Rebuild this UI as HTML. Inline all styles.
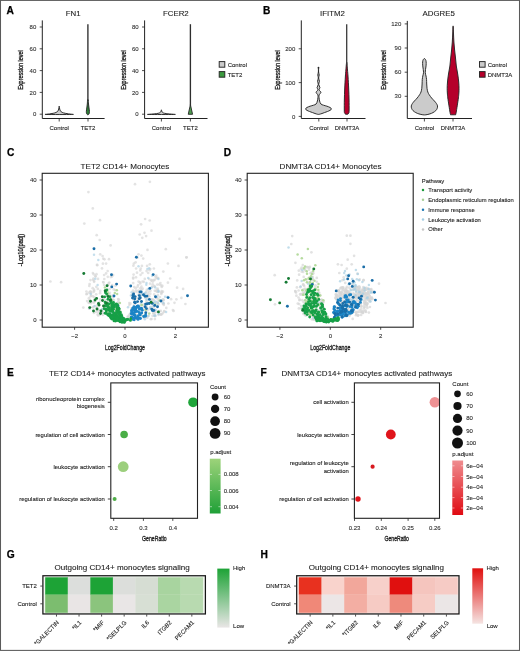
<!DOCTYPE html>
<html><head><meta charset="utf-8"><title>Figure</title>
<style>
html,body{margin:0;padding:0;background:#fff;}
body{width:520px;height:651px;overflow:hidden;font-family:"Liberation Sans",sans-serif;}
svg{display:block;font-family:"Liberation Sans",sans-serif;will-change:transform;}
</style></head><body>
<svg width="520" height="651" viewBox="0 0 520 651">
<rect x="0" y="0" width="520" height="651" fill="#fff"/>
<path d="M42.3 20.4 V118.5 H104.6" fill="none" stroke="#222" stroke-width="1"/>
<line x1="39.699999999999996" y1="27" x2="42.3" y2="27" stroke="#222" stroke-width="0.8"/>
<text x="36.3" y="29.1" font-size="6.0" text-anchor="end" font-weight="normal" fill="#303030" stroke="#303030" stroke-width="0.1" >80</text>
<line x1="39.699999999999996" y1="48.8" x2="42.3" y2="48.8" stroke="#222" stroke-width="0.8"/>
<text x="36.3" y="50.9" font-size="6.0" text-anchor="end" font-weight="normal" fill="#303030" stroke="#303030" stroke-width="0.1" >60</text>
<line x1="39.699999999999996" y1="70.6" x2="42.3" y2="70.6" stroke="#222" stroke-width="0.8"/>
<text x="36.3" y="72.69999999999999" font-size="6.0" text-anchor="end" font-weight="normal" fill="#303030" stroke="#303030" stroke-width="0.1" >40</text>
<line x1="39.699999999999996" y1="92.4" x2="42.3" y2="92.4" stroke="#222" stroke-width="0.8"/>
<text x="36.3" y="94.5" font-size="6.0" text-anchor="end" font-weight="normal" fill="#303030" stroke="#303030" stroke-width="0.1" >20</text>
<line x1="39.699999999999996" y1="114.2" x2="42.3" y2="114.2" stroke="#222" stroke-width="0.8"/>
<text x="36.3" y="116.3" font-size="6.0" text-anchor="end" font-weight="normal" fill="#303030" stroke="#303030" stroke-width="0.1" >0</text>
<line x1="59.2" y1="118.5" x2="59.2" y2="121.5" stroke="#222" stroke-width="0.8"/>
<text x="59.2" y="130.1" font-size="6.0" text-anchor="middle" font-weight="normal" fill="#1e1e1e" stroke="#1e1e1e" stroke-width="0.1" >Control</text>
<line x1="88" y1="118.5" x2="88" y2="121.5" stroke="#222" stroke-width="0.8"/>
<text x="88" y="130.1" font-size="6.0" text-anchor="middle" font-weight="normal" fill="#1e1e1e" stroke="#1e1e1e" stroke-width="0.1" >TET2</text>
<text x="73.2" y="15.8" font-size="7.85" text-anchor="middle" font-weight="normal" fill="#222" stroke="#222" stroke-width="0.1" >FN1</text>
<text transform="translate(23.4,70) rotate(-90) scale(0.733,1)" font-size="7.4" text-anchor="middle" fill="#1e1e1e" stroke="#1e1e1e" stroke-width="0.34">Expression level</text>
<path d="M59.25 106.40 C59.34 106.83 59.49 108.23 59.70 109.00 C59.91 109.77 60.08 110.43 60.50 111.00 C60.92 111.57 61.42 112.02 62.20 112.40 C62.98 112.78 64.12 113.05 65.20 113.30 C66.28 113.55 67.65 113.75 68.70 113.90 C69.75 114.05 71.03 114.10 71.50 114.20 C71.97 114.30 75.60 114.45 71.50 114.50 C67.40 114.55 51.00 114.55 46.90 114.50 C42.80 114.45 46.43 114.30 46.90 114.20 C47.37 114.10 48.65 114.05 49.70 113.90 C50.75 113.75 52.12 113.55 53.20 113.30 C54.28 113.05 55.42 112.78 56.20 112.40 C56.98 112.02 57.48 111.57 57.90 111.00 C58.32 110.43 58.49 109.77 58.70 109.00 C58.91 108.23 59.06 106.83 59.15 106.40 C59.24 105.97 59.16 105.97 59.25 106.40Z" fill="#cbcbcb" stroke="#262626" stroke-width="0.95" stroke-linejoin="round"/>
<path d="M88.20 100.00 C88.35 100.67 88.37 102.67 88.50 104.00 C88.63 105.33 88.84 106.75 89.00 108.00 C89.16 109.25 89.42 110.57 89.45 111.50 C89.48 112.43 89.38 113.08 89.20 113.60 C89.03 114.12 88.70 114.43 88.40 114.60 C88.10 114.77 87.70 114.77 87.40 114.60 C87.10 114.43 86.78 114.12 86.60 113.60 C86.43 113.08 86.32 112.43 86.35 111.50 C86.38 110.57 86.64 109.25 86.80 108.00 C86.96 106.75 87.17 105.33 87.30 104.00 C87.43 102.67 87.45 100.67 87.60 100.00 C87.75 99.33 88.05 99.33 88.20 100.00Z" fill="#2f7d37" stroke="#262626" stroke-width="0.95" stroke-linejoin="round"/>
<line x1="87.9" y1="24.2" x2="87.9" y2="101" stroke="#2e2e2e" stroke-width="1.35"/>
<path d="M144.6 20.4 V118.5 H207.5" fill="none" stroke="#222" stroke-width="1"/>
<line x1="142.0" y1="27" x2="144.6" y2="27" stroke="#222" stroke-width="0.8"/>
<text x="138.6" y="29.1" font-size="6.0" text-anchor="end" font-weight="normal" fill="#303030" stroke="#303030" stroke-width="0.1" >80</text>
<line x1="142.0" y1="48.8" x2="144.6" y2="48.8" stroke="#222" stroke-width="0.8"/>
<text x="138.6" y="50.9" font-size="6.0" text-anchor="end" font-weight="normal" fill="#303030" stroke="#303030" stroke-width="0.1" >60</text>
<line x1="142.0" y1="70.6" x2="144.6" y2="70.6" stroke="#222" stroke-width="0.8"/>
<text x="138.6" y="72.69999999999999" font-size="6.0" text-anchor="end" font-weight="normal" fill="#303030" stroke="#303030" stroke-width="0.1" >40</text>
<line x1="142.0" y1="92.4" x2="144.6" y2="92.4" stroke="#222" stroke-width="0.8"/>
<text x="138.6" y="94.5" font-size="6.0" text-anchor="end" font-weight="normal" fill="#303030" stroke="#303030" stroke-width="0.1" >20</text>
<line x1="142.0" y1="114.2" x2="144.6" y2="114.2" stroke="#222" stroke-width="0.8"/>
<text x="138.6" y="116.3" font-size="6.0" text-anchor="end" font-weight="normal" fill="#303030" stroke="#303030" stroke-width="0.1" >0</text>
<line x1="161.4" y1="118.5" x2="161.4" y2="121.5" stroke="#222" stroke-width="0.8"/>
<text x="161.4" y="130.1" font-size="6.0" text-anchor="middle" font-weight="normal" fill="#1e1e1e" stroke="#1e1e1e" stroke-width="0.1" >Control</text>
<line x1="190.4" y1="118.5" x2="190.4" y2="121.5" stroke="#222" stroke-width="0.8"/>
<text x="190.4" y="130.1" font-size="6.0" text-anchor="middle" font-weight="normal" fill="#1e1e1e" stroke="#1e1e1e" stroke-width="0.1" >TET2</text>
<text x="175.8" y="15.8" font-size="7.85" text-anchor="middle" font-weight="normal" fill="#222" stroke="#222" stroke-width="0.1" >FCER2</text>
<text transform="translate(126.3,70) rotate(-90) scale(0.733,1)" font-size="7.4" text-anchor="middle" fill="#1e1e1e" stroke="#1e1e1e" stroke-width="0.34">Expression level</text>
<path d="M161.45 110.00 C161.54 110.25 161.68 111.07 161.90 111.50 C162.12 111.93 162.35 112.30 162.80 112.60 C163.25 112.90 163.75 113.10 164.60 113.30 C165.45 113.50 166.77 113.67 167.90 113.80 C169.03 113.93 170.47 114.02 171.40 114.10 C172.33 114.17 173.15 114.18 173.50 114.25 C173.85 114.32 177.53 114.46 173.50 114.50 C169.47 114.54 153.33 114.54 149.30 114.50 C145.27 114.46 148.95 114.32 149.30 114.25 C149.65 114.18 150.47 114.17 151.40 114.10 C152.33 114.02 153.77 113.93 154.90 113.80 C156.03 113.67 157.35 113.50 158.20 113.30 C159.05 113.10 159.55 112.90 160.00 112.60 C160.45 112.30 160.68 111.93 160.90 111.50 C161.12 111.07 161.26 110.25 161.35 110.00 C161.44 109.75 161.36 109.75 161.45 110.00Z" fill="#cbcbcb" stroke="#262626" stroke-width="0.95" stroke-linejoin="round"/>
<path d="M190.4 104.6 L192.55 114.3 L188.25 114.3 Z" fill="#4f9f50" stroke="#262626" stroke-width="0.9" stroke-linejoin="round"/>
<line x1="190.4" y1="24.2" x2="190.4" y2="105.5" stroke="#2e2e2e" stroke-width="1.35"/>
<rect x="219.2" y="61.6" width="5.6" height="5.6" fill="#cbcbcb" stroke="#262626" stroke-width="0.95"/>
<rect x="219.2" y="71.6" width="5.6" height="5.6" fill="#3b9a3f" stroke="#262626" stroke-width="0.95"/>
<text x="227.7" y="66.6" font-size="6.0" text-anchor="start" font-weight="normal" fill="#1e1e1e" stroke="#1e1e1e" stroke-width="0.1" >Control</text>
<text x="227.7" y="76.6" font-size="6.0" text-anchor="start" font-weight="normal" fill="#1e1e1e" stroke="#1e1e1e" stroke-width="0.1" >TET2</text>
<path d="M301.3 20.4 V118.5 H365.5" fill="none" stroke="#222" stroke-width="1"/>
<line x1="298.7" y1="48.8" x2="301.3" y2="48.8" stroke="#222" stroke-width="0.8"/>
<text x="295.3" y="50.9" font-size="6.0" text-anchor="end" font-weight="normal" fill="#303030" stroke="#303030" stroke-width="0.1" >200</text>
<line x1="298.7" y1="82.6" x2="301.3" y2="82.6" stroke="#222" stroke-width="0.8"/>
<text x="295.3" y="84.69999999999999" font-size="6.0" text-anchor="end" font-weight="normal" fill="#303030" stroke="#303030" stroke-width="0.1" >100</text>
<line x1="298.7" y1="116.4" x2="301.3" y2="116.4" stroke="#222" stroke-width="0.8"/>
<text x="295.3" y="118.5" font-size="6.0" text-anchor="end" font-weight="normal" fill="#303030" stroke="#303030" stroke-width="0.1" >0</text>
<line x1="318.8" y1="118.5" x2="318.8" y2="121.5" stroke="#222" stroke-width="0.8"/>
<text x="318.8" y="130.1" font-size="6.0" text-anchor="middle" font-weight="normal" fill="#1e1e1e" stroke="#1e1e1e" stroke-width="0.1" >Control</text>
<line x1="347" y1="118.5" x2="347" y2="121.5" stroke="#222" stroke-width="0.8"/>
<text x="347" y="130.1" font-size="6.0" text-anchor="middle" font-weight="normal" fill="#1e1e1e" stroke="#1e1e1e" stroke-width="0.1" >DNMT3A</text>
<text x="332.5" y="15.8" font-size="7.85" text-anchor="middle" font-weight="normal" fill="#222" stroke="#222" stroke-width="0.1" >IFITM2</text>
<text transform="translate(280.2,70) rotate(-90) scale(0.733,1)" font-size="7.4" text-anchor="middle" fill="#1e1e1e" stroke="#1e1e1e" stroke-width="0.34">Expression level</text>
<path d="M318.60 67.70 C318.64 68.42 318.52 70.78 318.62 72.00 C318.72 73.22 319.19 74.00 319.20 75.00 C319.20 76.00 318.61 76.95 318.65 78.00 C318.69 79.05 319.44 80.25 319.45 81.30 C319.46 82.35 318.62 83.23 318.70 84.30 C318.78 85.37 319.90 86.78 319.95 87.70 C320.00 88.62 318.84 89.03 319.00 89.80 C319.16 90.57 320.88 91.43 320.90 92.30 C320.92 93.17 319.41 94.13 319.10 95.00 C318.79 95.87 318.97 96.50 319.05 97.50 C319.13 98.50 319.29 99.92 319.60 101.00 C319.91 102.08 320.25 103.30 320.90 104.00 C321.55 104.70 322.50 104.83 323.50 105.20 C324.50 105.57 325.80 105.82 326.90 106.20 C328.00 106.58 329.33 107.03 330.10 107.50 C330.87 107.97 331.50 108.53 331.50 109.00 C331.50 109.47 330.77 109.88 330.10 110.30 C329.43 110.72 328.40 111.13 327.50 111.50 C326.60 111.87 325.62 112.17 324.70 112.50 C323.78 112.83 322.90 113.20 322.00 113.50 C321.10 113.80 320.02 114.17 319.30 114.30 C318.58 114.43 318.42 114.43 317.70 114.30 C316.98 114.17 315.90 113.80 315.00 113.50 C314.10 113.20 313.22 112.83 312.30 112.50 C311.38 112.17 310.40 111.87 309.50 111.50 C308.60 111.13 307.57 110.72 306.90 110.30 C306.23 109.88 305.50 109.47 305.50 109.00 C305.50 108.53 306.13 107.97 306.90 107.50 C307.67 107.03 309.00 106.58 310.10 106.20 C311.20 105.82 312.50 105.57 313.50 105.20 C314.50 104.83 315.45 104.70 316.10 104.00 C316.75 103.30 317.09 102.08 317.40 101.00 C317.71 99.92 317.87 98.50 317.95 97.50 C318.03 96.50 318.21 95.87 317.90 95.00 C317.59 94.13 316.08 93.17 316.10 92.30 C316.12 91.43 317.84 90.57 318.00 89.80 C318.16 89.03 317.00 88.62 317.05 87.70 C317.10 86.78 318.22 85.37 318.30 84.30 C318.38 83.23 317.54 82.35 317.55 81.30 C317.56 80.25 318.31 79.05 318.35 78.00 C318.39 76.95 317.80 76.00 317.80 75.00 C317.81 74.00 318.28 73.22 318.38 72.00 C318.48 70.78 318.36 68.42 318.40 67.70 C318.44 66.98 318.56 66.98 318.60 67.70Z" fill="#cbcbcb" stroke="#262626" stroke-width="0.95" stroke-linejoin="round"/>
<circle cx="318.5" cy="67.7" r="0.85" fill="#262626"/>
<path d="M346.90 63.00 C347.07 64.17 347.31 67.67 347.50 70.00 C347.69 72.33 347.85 73.83 348.05 77.00 C348.25 80.17 348.53 85.17 348.70 89.00 C348.87 92.83 348.98 96.50 349.05 100.00 C349.12 103.50 349.12 107.87 349.10 110.00 C349.07 112.13 349.13 112.10 348.90 112.80 C348.67 113.50 348.23 113.97 347.70 114.20 C347.17 114.43 346.23 114.43 345.70 114.20 C345.17 113.97 344.73 113.50 344.50 112.80 C344.27 112.10 344.33 112.13 344.30 110.00 C344.27 107.87 344.28 103.50 344.35 100.00 C344.42 96.50 344.53 92.83 344.70 89.00 C344.87 85.17 345.15 80.17 345.35 77.00 C345.55 73.83 345.71 72.33 345.90 70.00 C346.09 67.67 346.33 64.17 346.50 63.00 C346.67 61.83 346.73 61.83 346.90 63.00Z" fill="#b5002b" stroke="#262626" stroke-width="0.95" stroke-linejoin="round"/>
<line x1="346.7" y1="24.2" x2="346.7" y2="65" stroke="#3a3a3a" stroke-width="1.3"/>
<path d="M407.3 20.9 V118.5 H472" fill="none" stroke="#222" stroke-width="1"/>
<line x1="404.7" y1="23.9" x2="407.3" y2="23.9" stroke="#222" stroke-width="0.8"/>
<text x="401.3" y="26.0" font-size="6.0" text-anchor="end" font-weight="normal" fill="#303030" stroke="#303030" stroke-width="0.1" >120</text>
<line x1="404.7" y1="48.0" x2="407.3" y2="48.0" stroke="#222" stroke-width="0.8"/>
<text x="401.3" y="50.1" font-size="6.0" text-anchor="end" font-weight="normal" fill="#303030" stroke="#303030" stroke-width="0.1" >90</text>
<line x1="404.7" y1="72.2" x2="407.3" y2="72.2" stroke="#222" stroke-width="0.8"/>
<text x="401.3" y="74.3" font-size="6.0" text-anchor="end" font-weight="normal" fill="#303030" stroke="#303030" stroke-width="0.1" >60</text>
<line x1="404.7" y1="96.3" x2="407.3" y2="96.3" stroke="#222" stroke-width="0.8"/>
<text x="401.3" y="98.39999999999999" font-size="6.0" text-anchor="end" font-weight="normal" fill="#303030" stroke="#303030" stroke-width="0.1" >30</text>
<line x1="424.4" y1="118.5" x2="424.4" y2="121.5" stroke="#222" stroke-width="0.8"/>
<text x="424.4" y="130.1" font-size="6.0" text-anchor="middle" font-weight="normal" fill="#1e1e1e" stroke="#1e1e1e" stroke-width="0.1" >Control</text>
<line x1="453.0" y1="118.5" x2="453.0" y2="121.5" stroke="#222" stroke-width="0.8"/>
<text x="453.0" y="130.1" font-size="6.0" text-anchor="middle" font-weight="normal" fill="#1e1e1e" stroke="#1e1e1e" stroke-width="0.1" >DNMT3A</text>
<text x="438.7" y="15.8" font-size="7.85" text-anchor="middle" font-weight="normal" fill="#222" stroke="#222" stroke-width="0.1" >ADGRE5</text>
<text transform="translate(385.6,70) rotate(-90) scale(0.733,1)" font-size="7.4" text-anchor="middle" fill="#1e1e1e" stroke="#1e1e1e" stroke-width="0.34">Expression level</text>
<path d="M424.90 58.80 C425.23 59.08 425.68 59.72 425.90 60.50 C426.12 61.28 426.20 62.42 426.20 63.50 C426.20 64.58 426.06 65.53 425.90 67.00 C425.74 68.47 425.23 70.80 425.25 72.30 C425.27 73.80 425.78 74.80 426.00 76.00 C426.22 77.20 426.43 78.17 426.55 79.50 C426.67 80.83 426.62 82.53 426.70 84.00 C426.77 85.47 426.82 86.97 427.00 88.30 C427.18 89.63 427.43 90.93 427.80 92.00 C428.17 93.07 428.57 93.70 429.20 94.70 C429.83 95.70 430.73 96.95 431.60 98.00 C432.47 99.05 433.60 100.08 434.40 101.00 C435.20 101.92 435.88 102.68 436.40 103.50 C436.92 104.32 437.37 105.08 437.50 105.90 C437.63 106.72 437.48 107.62 437.20 108.40 C436.92 109.18 436.50 109.90 435.80 110.60 C435.10 111.30 433.98 112.05 433.00 112.60 C432.02 113.15 431.08 113.53 429.90 113.90 C428.72 114.27 427.07 114.65 425.90 114.80 C424.73 114.95 424.07 114.95 422.90 114.80 C421.73 114.65 420.08 114.27 418.90 113.90 C417.72 113.53 416.78 113.15 415.80 112.60 C414.82 112.05 413.70 111.30 413.00 110.60 C412.30 109.90 411.88 109.18 411.60 108.40 C411.32 107.62 411.17 106.72 411.30 105.90 C411.43 105.08 411.88 104.32 412.40 103.50 C412.92 102.68 413.60 101.92 414.40 101.00 C415.20 100.08 416.33 99.05 417.20 98.00 C418.07 96.95 418.97 95.70 419.60 94.70 C420.23 93.70 420.63 93.07 421.00 92.00 C421.37 90.93 421.62 89.63 421.80 88.30 C421.98 86.97 422.02 85.47 422.10 84.00 C422.17 82.53 422.13 80.83 422.25 79.50 C422.37 78.17 422.58 77.20 422.80 76.00 C423.02 74.80 423.53 73.80 423.55 72.30 C423.57 70.80 423.06 68.47 422.90 67.00 C422.74 65.53 422.60 64.58 422.60 63.50 C422.60 62.42 422.68 61.28 422.90 60.50 C423.12 59.72 423.57 59.08 423.90 58.80 C424.23 58.52 424.57 58.52 424.90 58.80Z" fill="#cbcbcb" stroke="#262626" stroke-width="0.95" stroke-linejoin="round"/>
<path d="M453.25 26.80 C453.34 28.00 453.39 31.47 453.50 34.00 C453.61 36.53 453.72 39.33 453.90 42.00 C454.08 44.67 454.33 47.33 454.60 50.00 C454.87 52.67 455.22 55.33 455.50 58.00 C455.78 60.67 455.93 63.33 456.30 66.00 C456.67 68.67 457.30 71.33 457.70 74.00 C458.10 76.67 458.48 79.62 458.70 82.00 C458.92 84.38 458.98 86.47 459.00 88.30 C459.02 90.13 458.95 91.40 458.85 93.00 C458.75 94.60 458.68 95.75 458.40 97.90 C458.13 100.05 457.57 103.52 457.20 105.90 C456.83 108.28 456.45 110.77 456.20 112.20 C455.95 113.63 455.83 114.08 455.70 114.50 C455.57 114.92 456.22 114.71 455.40 114.75 C454.58 114.79 451.62 114.79 450.80 114.75 C449.98 114.71 450.63 114.92 450.50 114.50 C450.37 114.08 450.25 113.63 450.00 112.20 C449.75 110.77 449.37 108.28 449.00 105.90 C448.63 103.52 448.07 100.05 447.80 97.90 C447.53 95.75 447.45 94.60 447.35 93.00 C447.25 91.40 447.18 90.13 447.20 88.30 C447.23 86.47 447.28 84.38 447.50 82.00 C447.72 79.62 448.10 76.67 448.50 74.00 C448.90 71.33 449.53 68.67 449.90 66.00 C450.27 63.33 450.42 60.67 450.70 58.00 C450.98 55.33 451.33 52.67 451.60 50.00 C451.87 47.33 452.12 44.67 452.30 42.00 C452.48 39.33 452.59 36.53 452.70 34.00 C452.81 31.47 452.86 28.00 452.95 26.80 C453.04 25.60 453.16 25.60 453.25 26.80Z" fill="#b5002b" stroke="#262626" stroke-width="0.95" stroke-linejoin="round"/>
<rect x="479.5" y="61.6" width="5.6" height="5.6" fill="#cbcbcb" stroke="#262626" stroke-width="0.95"/>
<rect x="479.5" y="71.6" width="5.6" height="5.6" fill="#b5002b" stroke="#262626" stroke-width="0.95"/>
<text x="487.7" y="66.6" font-size="6.0" text-anchor="start" font-weight="normal" fill="#1e1e1e" stroke="#1e1e1e" stroke-width="0.1" >Control</text>
<text x="487.7" y="76.6" font-size="6.0" text-anchor="start" font-weight="normal" fill="#1e1e1e" stroke="#1e1e1e" stroke-width="0.1" >DNMT3A</text>
<rect x="42.2" y="173.3" width="166.2" height="153.89999999999998" fill="none" stroke="#222" stroke-width="1.1"/>
<line x1="39.6" y1="320.0" x2="42.2" y2="320.0" stroke="#222" stroke-width="0.8"/>
<text x="36.6" y="322.05" font-size="6.0" text-anchor="end" font-weight="normal" fill="#303030" stroke="#303030" stroke-width="0.1" >0</text>
<line x1="39.6" y1="285.0" x2="42.2" y2="285.0" stroke="#222" stroke-width="0.8"/>
<text x="36.6" y="287.05" font-size="6.0" text-anchor="end" font-weight="normal" fill="#303030" stroke="#303030" stroke-width="0.1" >10</text>
<line x1="39.6" y1="250.0" x2="42.2" y2="250.0" stroke="#222" stroke-width="0.8"/>
<text x="36.6" y="252.05" font-size="6.0" text-anchor="end" font-weight="normal" fill="#303030" stroke="#303030" stroke-width="0.1" >20</text>
<line x1="39.6" y1="215.0" x2="42.2" y2="215.0" stroke="#222" stroke-width="0.8"/>
<text x="36.6" y="217.05" font-size="6.0" text-anchor="end" font-weight="normal" fill="#303030" stroke="#303030" stroke-width="0.1" >30</text>
<line x1="39.6" y1="180.0" x2="42.2" y2="180.0" stroke="#222" stroke-width="0.8"/>
<text x="36.6" y="182.05" font-size="6.0" text-anchor="end" font-weight="normal" fill="#303030" stroke="#303030" stroke-width="0.1" >40</text>
<line x1="74.6" y1="327.2" x2="74.6" y2="329.8" stroke="#222" stroke-width="0.8"/>
<text x="74.6" y="338.4" font-size="6.0" text-anchor="middle" font-weight="normal" fill="#303030" stroke="#303030" stroke-width="0.1" >−2</text>
<line x1="125.0" y1="327.2" x2="125.0" y2="329.8" stroke="#222" stroke-width="0.8"/>
<text x="125.0" y="338.4" font-size="6.0" text-anchor="middle" font-weight="normal" fill="#303030" stroke="#303030" stroke-width="0.1" >0</text>
<line x1="175.4" y1="327.2" x2="175.4" y2="329.8" stroke="#222" stroke-width="0.8"/>
<text x="175.4" y="338.4" font-size="6.0" text-anchor="middle" font-weight="normal" fill="#303030" stroke="#303030" stroke-width="0.1" >2</text>
<text x="125.0" y="168.5" font-size="8.1" text-anchor="middle" font-weight="normal" fill="#1c1c1c" stroke="#1c1c1c" stroke-width="0.1" >TET2 CD14+ Monocytes</text>
<text transform="translate(125,349.6) scale(0.705,1)" font-size="7.4" text-anchor="middle" fill="#1e1e1e" stroke="#1e1e1e" stroke-width="0.34">Log2FoldChange</text>
<text transform="translate(23.4,250) rotate(-90) scale(0.773,1)" font-size="7.4" text-anchor="middle" fill="#1e1e1e" stroke="#1e1e1e" stroke-width="0.34">-Log10(padj)</text>
<g fill="#d6d6d6" fill-opacity="0.68"><circle cx="88.4" cy="192.1" r="1.35"/><circle cx="92.8" cy="208.4" r="1.35"/><circle cx="100" cy="220.2" r="1.35"/><circle cx="84.3" cy="223.6" r="1.35"/><circle cx="96.7" cy="235.2" r="1.35"/><circle cx="99.7" cy="240" r="1.35"/><circle cx="110.6" cy="245.4" r="1.35"/><circle cx="100.2" cy="254.3" r="1.35"/><circle cx="102.6" cy="256" r="1.35"/><circle cx="135" cy="184.2" r="1.35"/><circle cx="149.9" cy="181.8" r="1.35"/><circle cx="145.1" cy="219" r="1.35"/><circle cx="149.7" cy="220.5" r="1.35"/><circle cx="141.1" cy="224.3" r="1.35"/><circle cx="151.5" cy="230.7" r="1.35"/><circle cx="144.5" cy="232.8" r="1.35"/><circle cx="139.7" cy="234.5" r="1.35"/><circle cx="146.1" cy="236.1" r="1.35"/><circle cx="142.3" cy="237.8" r="1.35"/><circle cx="179.5" cy="238.9" r="1.35"/><circle cx="147.5" cy="249.9" r="1.35"/><circle cx="165.8" cy="249.2" r="1.35"/><circle cx="138.5" cy="254.3" r="1.35"/><circle cx="141.4" cy="255.6" r="1.35"/><circle cx="143.2" cy="258.6" r="1.35"/><circle cx="186.4" cy="257.4" r="1.35"/><circle cx="50.4" cy="281.5" r="1.35"/><circle cx="61.1" cy="282.2" r="1.35"/><circle cx="86.4" cy="291.5" r="1.35"/><circle cx="83.3" cy="307.6" r="1.35"/><circle cx="186.6" cy="257.3" r="1.35"/><circle cx="167.9" cy="263.5" r="1.35"/><circle cx="178.5" cy="265.9" r="1.35"/><circle cx="163.3" cy="271.6" r="1.35"/><circle cx="170.2" cy="278.5" r="1.35"/><circle cx="177.1" cy="287.7" r="1.35"/><circle cx="183.1" cy="288.9" r="1.35"/><circle cx="181.4" cy="297.9" r="1.35"/><circle cx="174.5" cy="302.8" r="1.35"/><circle cx="185.4" cy="304" r="1.35"/><circle cx="173.6" cy="310.9" r="1.35"/><circle cx="162.9" cy="313.1" r="1.35"/><circle cx="103.2" cy="299.0" r="1.35"/><circle cx="105.3" cy="300.4" r="1.35"/><circle cx="93.0" cy="296.4" r="1.35"/><circle cx="109.9" cy="310.4" r="1.35"/><circle cx="89.6" cy="284.0" r="1.35"/><circle cx="123.3" cy="318.0" r="1.35"/><circle cx="110.8" cy="301.8" r="1.35"/><circle cx="106.1" cy="263.6" r="1.35"/><circle cx="93.2" cy="279.8" r="1.35"/><circle cx="87.1" cy="293.8" r="1.35"/><circle cx="102.7" cy="312.6" r="1.35"/><circle cx="105.7" cy="303.1" r="1.35"/><circle cx="105.0" cy="304.2" r="1.35"/><circle cx="103.4" cy="282.3" r="1.35"/><circle cx="117.9" cy="306.4" r="1.35"/><circle cx="98.0" cy="278.9" r="1.35"/><circle cx="97.0" cy="264.8" r="1.35"/><circle cx="115.1" cy="290.1" r="1.35"/><circle cx="88.8" cy="302.5" r="1.35"/><circle cx="89.3" cy="285.9" r="1.35"/><circle cx="90.5" cy="280.1" r="1.35"/><circle cx="107.3" cy="292.8" r="1.35"/><circle cx="93.2" cy="307.5" r="1.35"/><circle cx="91.0" cy="303.3" r="1.35"/><circle cx="90.4" cy="291.3" r="1.35"/><circle cx="94.1" cy="281.8" r="1.35"/><circle cx="97.6" cy="314.5" r="1.35"/><circle cx="94.0" cy="289.7" r="1.35"/><circle cx="118.5" cy="303.2" r="1.35"/><circle cx="94.1" cy="281.0" r="1.35"/><circle cx="115.4" cy="285.7" r="1.35"/><circle cx="97.3" cy="265.2" r="1.35"/><circle cx="89.4" cy="300.2" r="1.35"/><circle cx="95.2" cy="301.1" r="1.35"/><circle cx="100.1" cy="293.2" r="1.35"/><circle cx="107.8" cy="313.7" r="1.35"/><circle cx="92.9" cy="273.0" r="1.35"/><circle cx="120.5" cy="311.5" r="1.35"/><circle cx="95.5" cy="275.9" r="1.35"/><circle cx="114.1" cy="317.0" r="1.35"/><circle cx="102.0" cy="268.4" r="1.35"/><circle cx="95.1" cy="306.2" r="1.35"/><circle cx="95.8" cy="311.8" r="1.35"/><circle cx="108.7" cy="283.4" r="1.35"/><circle cx="92.7" cy="307.0" r="1.35"/><circle cx="107.3" cy="313.1" r="1.35"/><circle cx="109.3" cy="282.5" r="1.35"/><circle cx="102.9" cy="263.7" r="1.35"/><circle cx="92.7" cy="288.2" r="1.35"/><circle cx="107.7" cy="271.0" r="1.35"/><circle cx="99.8" cy="314.8" r="1.35"/><circle cx="112.3" cy="300.3" r="1.35"/><circle cx="112.6" cy="317.9" r="1.35"/><circle cx="104.3" cy="307.5" r="1.35"/><circle cx="88.9" cy="298.2" r="1.35"/><circle cx="114.0" cy="315.2" r="1.35"/><circle cx="114.0" cy="306.2" r="1.35"/><circle cx="116.1" cy="315.9" r="1.35"/><circle cx="99.4" cy="305.3" r="1.35"/><circle cx="120.2" cy="313.9" r="1.35"/><circle cx="101.9" cy="310.3" r="1.35"/><circle cx="118.8" cy="299.6" r="1.35"/><circle cx="109.7" cy="289.0" r="1.35"/><circle cx="108.1" cy="301.5" r="1.35"/><circle cx="89.0" cy="303.0" r="1.35"/><circle cx="113.7" cy="289.4" r="1.35"/><circle cx="113.9" cy="300.1" r="1.35"/><circle cx="102.7" cy="312.5" r="1.35"/><circle cx="89.2" cy="308.4" r="1.35"/><circle cx="87.1" cy="301.1" r="1.35"/><circle cx="104.3" cy="279.0" r="1.35"/><circle cx="112.5" cy="295.6" r="1.35"/><circle cx="109.4" cy="316.1" r="1.35"/><circle cx="97.4" cy="305.0" r="1.35"/><circle cx="93.7" cy="274.3" r="1.35"/><circle cx="102.8" cy="314.8" r="1.35"/><circle cx="98.4" cy="304.4" r="1.35"/><circle cx="93.5" cy="291.9" r="1.35"/><circle cx="116.6" cy="315.8" r="1.35"/><circle cx="108.2" cy="284.9" r="1.35"/><circle cx="91.2" cy="295.6" r="1.35"/><circle cx="117.8" cy="312.9" r="1.35"/><circle cx="113.0" cy="317.4" r="1.35"/><circle cx="96.5" cy="274.2" r="1.35"/><circle cx="103.1" cy="282.1" r="1.35"/><circle cx="94.1" cy="290.9" r="1.35"/><circle cx="109.8" cy="295.4" r="1.35"/><circle cx="98.0" cy="312.5" r="1.35"/><circle cx="112.9" cy="299.5" r="1.35"/><circle cx="97.7" cy="310.3" r="1.35"/><circle cx="103.3" cy="258.7" r="1.35"/><circle cx="109.9" cy="292.8" r="1.35"/><circle cx="109.9" cy="303.8" r="1.35"/><circle cx="116.7" cy="317.7" r="1.35"/><circle cx="112.0" cy="276.6" r="1.35"/><circle cx="104.1" cy="275.0" r="1.35"/><circle cx="86.4" cy="294.2" r="1.35"/><circle cx="113.1" cy="275.0" r="1.35"/><circle cx="96.3" cy="286.8" r="1.35"/><circle cx="112.5" cy="296.9" r="1.35"/><circle cx="109.3" cy="308.7" r="1.35"/><circle cx="101.0" cy="310.3" r="1.35"/><circle cx="90.9" cy="293.2" r="1.35"/><circle cx="109.8" cy="315.6" r="1.35"/><circle cx="100.3" cy="299.4" r="1.35"/><circle cx="119.4" cy="310.6" r="1.35"/><circle cx="110.8" cy="277.1" r="1.35"/><circle cx="113.4" cy="311.6" r="1.35"/><circle cx="110.4" cy="306.9" r="1.35"/><circle cx="123.3" cy="318.5" r="1.35"/><circle cx="106.4" cy="310.3" r="1.35"/><circle cx="98.2" cy="315.6" r="1.35"/><circle cx="89.1" cy="292.5" r="1.35"/><circle cx="106.9" cy="309.2" r="1.35"/><circle cx="104.5" cy="259.3" r="1.35"/><circle cx="98.7" cy="310.2" r="1.35"/><circle cx="105.6" cy="307.1" r="1.35"/><circle cx="117.9" cy="305.5" r="1.35"/><circle cx="94.4" cy="297.2" r="1.35"/><circle cx="97.0" cy="307.4" r="1.35"/><circle cx="110.3" cy="297.0" r="1.35"/><circle cx="118.1" cy="299.0" r="1.35"/><circle cx="97.8" cy="288.9" r="1.35"/><circle cx="118.1" cy="315.2" r="1.35"/><circle cx="93.9" cy="313.0" r="1.35"/><circle cx="107.8" cy="276.8" r="1.35"/><circle cx="106.4" cy="295.9" r="1.35"/><circle cx="109.0" cy="259.2" r="1.35"/><circle cx="101.2" cy="310.8" r="1.35"/><circle cx="107.4" cy="295.3" r="1.35"/><circle cx="106.5" cy="290.9" r="1.35"/><circle cx="122.4" cy="316.2" r="1.35"/><circle cx="96.2" cy="294.3" r="1.35"/><circle cx="90.8" cy="292.0" r="1.35"/><circle cx="117.0" cy="315.2" r="1.35"/><circle cx="104.1" cy="284.9" r="1.35"/><circle cx="93.3" cy="302.0" r="1.35"/><circle cx="93.4" cy="278.7" r="1.35"/><circle cx="112.1" cy="285.2" r="1.35"/><circle cx="99.5" cy="302.1" r="1.35"/><circle cx="90.0" cy="307.5" r="1.35"/><circle cx="90.7" cy="296.3" r="1.35"/><circle cx="95.5" cy="276.5" r="1.35"/><circle cx="106.2" cy="292.2" r="1.35"/><circle cx="100.3" cy="290.9" r="1.35"/><circle cx="106.1" cy="273.4" r="1.35"/><circle cx="93.8" cy="302.6" r="1.35"/><circle cx="110.3" cy="297.4" r="1.35"/><circle cx="118.3" cy="301.6" r="1.35"/><circle cx="114.1" cy="311.2" r="1.35"/><circle cx="161.2" cy="285.4" r="1.35"/><circle cx="138.3" cy="316.2" r="1.35"/><circle cx="135.3" cy="307.5" r="1.35"/><circle cx="136.1" cy="268.5" r="1.35"/><circle cx="158.5" cy="291.8" r="1.35"/><circle cx="141.7" cy="305.5" r="1.35"/><circle cx="152.6" cy="315.8" r="1.35"/><circle cx="145.7" cy="308.9" r="1.35"/><circle cx="145.6" cy="305.5" r="1.35"/><circle cx="133.4" cy="265.7" r="1.35"/><circle cx="147.5" cy="296.9" r="1.35"/><circle cx="148.2" cy="273.0" r="1.35"/><circle cx="133.2" cy="277.6" r="1.35"/><circle cx="128.4" cy="317.5" r="1.35"/><circle cx="144.0" cy="309.2" r="1.35"/><circle cx="138.7" cy="294.3" r="1.35"/><circle cx="146.1" cy="292.2" r="1.35"/><circle cx="153.3" cy="312.8" r="1.35"/><circle cx="133.1" cy="293.6" r="1.35"/><circle cx="154.8" cy="290.8" r="1.35"/><circle cx="133.6" cy="274.6" r="1.35"/><circle cx="160.8" cy="310.9" r="1.35"/><circle cx="153.5" cy="313.5" r="1.35"/><circle cx="150.5" cy="290.8" r="1.35"/><circle cx="149.4" cy="296.4" r="1.35"/><circle cx="164.3" cy="311.1" r="1.35"/><circle cx="136.1" cy="315.7" r="1.35"/><circle cx="155.0" cy="309.8" r="1.35"/><circle cx="157.8" cy="290.8" r="1.35"/><circle cx="161.0" cy="314.4" r="1.35"/><circle cx="153.1" cy="309.4" r="1.35"/><circle cx="155.8" cy="290.8" r="1.35"/><circle cx="139.3" cy="294.4" r="1.35"/><circle cx="150.9" cy="302.5" r="1.35"/><circle cx="135.1" cy="317.2" r="1.35"/><circle cx="152.0" cy="286.7" r="1.35"/><circle cx="151.7" cy="299.8" r="1.35"/><circle cx="146.8" cy="289.9" r="1.35"/><circle cx="153.3" cy="309.1" r="1.35"/><circle cx="150.0" cy="308.0" r="1.35"/><circle cx="136.0" cy="290.6" r="1.35"/><circle cx="140.7" cy="268.6" r="1.35"/><circle cx="135.8" cy="315.5" r="1.35"/><circle cx="147.5" cy="296.5" r="1.35"/><circle cx="163.7" cy="299.7" r="1.35"/><circle cx="149.3" cy="309.0" r="1.35"/><circle cx="127.8" cy="316.6" r="1.35"/><circle cx="132.2" cy="294.6" r="1.35"/><circle cx="132.6" cy="295.9" r="1.35"/><circle cx="149.8" cy="264.3" r="1.35"/><circle cx="162.9" cy="291.7" r="1.35"/><circle cx="146.5" cy="301.2" r="1.35"/><circle cx="140.3" cy="283.4" r="1.35"/><circle cx="151.5" cy="299.3" r="1.35"/><circle cx="137.1" cy="307.0" r="1.35"/><circle cx="137.5" cy="257.6" r="1.35"/><circle cx="135.6" cy="262.3" r="1.35"/><circle cx="132.1" cy="308.8" r="1.35"/><circle cx="141.2" cy="315.2" r="1.35"/><circle cx="128.9" cy="315.5" r="1.35"/><circle cx="142.8" cy="294.9" r="1.35"/><circle cx="146.4" cy="316.9" r="1.35"/><circle cx="154.2" cy="294.4" r="1.35"/><circle cx="164.2" cy="311.6" r="1.35"/><circle cx="149.5" cy="270.2" r="1.35"/><circle cx="150.3" cy="293.7" r="1.35"/><circle cx="133.9" cy="263.5" r="1.35"/><circle cx="146.6" cy="271.1" r="1.35"/><circle cx="143.3" cy="304.7" r="1.35"/><circle cx="143.8" cy="281.8" r="1.35"/><circle cx="148.7" cy="291.6" r="1.35"/><circle cx="156.3" cy="297.8" r="1.35"/><circle cx="154.6" cy="280.1" r="1.35"/><circle cx="130.4" cy="314.9" r="1.35"/><circle cx="156.6" cy="302.6" r="1.35"/><circle cx="140.0" cy="282.4" r="1.35"/><circle cx="152.7" cy="299.5" r="1.35"/><circle cx="149.1" cy="303.0" r="1.35"/><circle cx="155.4" cy="276.5" r="1.35"/><circle cx="135.7" cy="318.7" r="1.35"/><circle cx="161.7" cy="314.3" r="1.35"/><circle cx="136.6" cy="292.0" r="1.35"/><circle cx="150.3" cy="269.0" r="1.35"/><circle cx="147.1" cy="265.9" r="1.35"/><circle cx="129.4" cy="305.1" r="1.35"/><circle cx="147.5" cy="302.9" r="1.35"/><circle cx="140.6" cy="295.0" r="1.35"/><circle cx="134.2" cy="287.1" r="1.35"/><circle cx="155.0" cy="312.6" r="1.35"/><circle cx="157.6" cy="302.5" r="1.35"/><circle cx="156.0" cy="278.3" r="1.35"/><circle cx="142.6" cy="281.5" r="1.35"/><circle cx="157.6" cy="288.7" r="1.35"/><circle cx="151.5" cy="319.0" r="1.35"/><circle cx="138.7" cy="298.7" r="1.35"/><circle cx="155.1" cy="316.2" r="1.35"/><circle cx="142.7" cy="288.7" r="1.35"/><circle cx="129.8" cy="314.2" r="1.35"/><circle cx="148.0" cy="295.3" r="1.35"/><circle cx="152.7" cy="284.3" r="1.35"/><circle cx="134.3" cy="304.4" r="1.35"/><circle cx="154.3" cy="305.9" r="1.35"/><circle cx="137.0" cy="272.7" r="1.35"/><circle cx="140.0" cy="307.4" r="1.35"/><circle cx="140.3" cy="270.4" r="1.35"/><circle cx="153.7" cy="299.8" r="1.35"/><circle cx="161.6" cy="292.7" r="1.35"/><circle cx="157.3" cy="284.6" r="1.35"/><circle cx="138.4" cy="290.5" r="1.35"/><circle cx="135.7" cy="288.2" r="1.35"/><circle cx="140.3" cy="288.3" r="1.35"/><circle cx="141.4" cy="289.8" r="1.35"/><circle cx="133.6" cy="299.5" r="1.35"/><circle cx="157.1" cy="298.3" r="1.35"/><circle cx="158.6" cy="299.4" r="1.35"/><circle cx="132.9" cy="309.0" r="1.35"/><circle cx="160.4" cy="283.1" r="1.35"/><circle cx="147.2" cy="299.7" r="1.35"/><circle cx="163.7" cy="303.9" r="1.35"/><circle cx="147.3" cy="310.3" r="1.35"/><circle cx="154.7" cy="315.2" r="1.35"/><circle cx="129.3" cy="303.0" r="1.35"/><circle cx="131.6" cy="308.4" r="1.35"/><circle cx="151.3" cy="280.6" r="1.35"/><circle cx="134.6" cy="309.3" r="1.35"/><circle cx="146.3" cy="309.2" r="1.35"/><circle cx="141.4" cy="286.7" r="1.35"/><circle cx="163.8" cy="304.9" r="1.35"/><circle cx="145.3" cy="298.1" r="1.35"/><circle cx="154.1" cy="306.6" r="1.35"/><circle cx="161.7" cy="291.1" r="1.35"/><circle cx="158.2" cy="304.6" r="1.35"/><circle cx="159.3" cy="311.1" r="1.35"/><circle cx="158.5" cy="314.8" r="1.35"/><circle cx="163.4" cy="303.3" r="1.35"/><circle cx="146.4" cy="306.7" r="1.35"/><circle cx="157.3" cy="291.8" r="1.35"/><circle cx="142.4" cy="273.0" r="1.35"/><circle cx="154.9" cy="319.1" r="1.35"/><circle cx="140.6" cy="274.8" r="1.35"/><circle cx="134.0" cy="292.0" r="1.35"/><circle cx="137.4" cy="318.2" r="1.35"/><circle cx="130.5" cy="303.7" r="1.35"/><circle cx="156.3" cy="275.7" r="1.35"/><circle cx="148.8" cy="315.7" r="1.35"/><circle cx="133.2" cy="278.6" r="1.35"/><circle cx="135.2" cy="307.0" r="1.35"/><circle cx="149.2" cy="279.1" r="1.35"/><circle cx="133.2" cy="283.1" r="1.35"/><circle cx="132.7" cy="308.9" r="1.35"/><circle cx="138.2" cy="298.7" r="1.35"/><circle cx="157.9" cy="295.0" r="1.35"/><circle cx="136.2" cy="314.7" r="1.35"/><circle cx="161.7" cy="287.0" r="1.35"/><circle cx="147.3" cy="317.7" r="1.35"/><circle cx="144.8" cy="278.9" r="1.35"/><circle cx="127.9" cy="317.3" r="1.35"/><circle cx="157.3" cy="289.6" r="1.35"/><circle cx="146.6" cy="297.0" r="1.35"/><circle cx="136.7" cy="319.1" r="1.35"/><circle cx="151.6" cy="280.1" r="1.35"/><circle cx="140.5" cy="310.7" r="1.35"/><circle cx="153.8" cy="301.6" r="1.35"/><circle cx="138.6" cy="281.6" r="1.35"/><circle cx="159.9" cy="297.0" r="1.35"/><circle cx="150.8" cy="319.2" r="1.35"/><circle cx="136.4" cy="298.0" r="1.35"/><circle cx="131.9" cy="309.5" r="1.35"/><circle cx="159.0" cy="311.8" r="1.35"/><circle cx="153.9" cy="268.5" r="1.35"/><circle cx="144.7" cy="294.4" r="1.35"/><circle cx="163.3" cy="300.6" r="1.35"/><circle cx="159.4" cy="284.6" r="1.35"/><circle cx="156.8" cy="291.5" r="1.35"/><circle cx="158.2" cy="278.0" r="1.35"/><circle cx="147.2" cy="297.5" r="1.35"/><circle cx="132.1" cy="312.3" r="1.35"/><circle cx="138.1" cy="285.0" r="1.35"/><circle cx="144.2" cy="306.9" r="1.35"/><circle cx="140.0" cy="305.6" r="1.35"/><circle cx="144.0" cy="318.1" r="1.35"/><circle cx="158.4" cy="304.0" r="1.35"/><circle cx="153.7" cy="280.1" r="1.35"/><circle cx="148.0" cy="293.8" r="1.35"/><circle cx="157.2" cy="277.8" r="1.35"/><circle cx="150.0" cy="283.7" r="1.35"/><circle cx="140.7" cy="298.2" r="1.35"/><circle cx="137.6" cy="286.7" r="1.35"/><circle cx="141.3" cy="304.6" r="1.35"/><circle cx="136.0" cy="277.3" r="1.35"/><circle cx="154.5" cy="286.2" r="1.35"/><circle cx="162.9" cy="299.4" r="1.35"/><circle cx="154.2" cy="286.4" r="1.35"/><circle cx="152.4" cy="306.6" r="1.35"/><circle cx="133.0" cy="290.6" r="1.35"/><circle cx="158.6" cy="301.0" r="1.35"/><circle cx="141.9" cy="265.9" r="1.35"/><circle cx="161.9" cy="292.1" r="1.35"/><circle cx="146.0" cy="303.7" r="1.35"/><circle cx="155.9" cy="311.8" r="1.35"/><circle cx="162.4" cy="285.9" r="1.35"/><circle cx="162.8" cy="303.6" r="1.35"/><circle cx="171.1" cy="299.2" r="1.35"/><circle cx="161.0" cy="301.2" r="1.35"/><circle cx="166.3" cy="307.9" r="1.35"/><circle cx="176.4" cy="299.3" r="1.35"/><circle cx="161.3" cy="294.0" r="1.35"/><circle cx="172.9" cy="310.1" r="1.35"/><circle cx="152.7" cy="281.7" r="1.35"/><circle cx="168.4" cy="303.5" r="1.35"/><circle cx="160.5" cy="314.6" r="1.35"/><circle cx="161.6" cy="292.2" r="1.35"/><circle cx="167.4" cy="296.9" r="1.35"/><circle cx="167.9" cy="282.7" r="1.35"/></g>
<g fill="#a6cee3" fill-opacity="0.65"><circle cx="94" cy="254.8" r="1.25"/><circle cx="157.9" cy="303.1" r="1.25"/><circle cx="130.8" cy="312.7" r="1.25"/><circle cx="137.3" cy="315.6" r="1.25"/><circle cx="135.4" cy="301.8" r="1.25"/><circle cx="158.4" cy="279.1" r="1.25"/><circle cx="147.4" cy="268.9" r="1.25"/><circle cx="151.7" cy="287.5" r="1.25"/><circle cx="152.2" cy="309.2" r="1.25"/><circle cx="140.9" cy="302.7" r="1.25"/><circle cx="133.8" cy="296.6" r="1.25"/><circle cx="131.6" cy="292.2" r="1.25"/><circle cx="148.2" cy="278.1" r="1.25"/><circle cx="146.3" cy="284.7" r="1.25"/><circle cx="148.2" cy="289.0" r="1.25"/><circle cx="152.2" cy="275.7" r="1.25"/><circle cx="163.4" cy="303.1" r="1.25"/><circle cx="144.3" cy="293.6" r="1.25"/><circle cx="150.3" cy="307.1" r="1.25"/><circle cx="155.6" cy="309.7" r="1.25"/><circle cx="144.9" cy="319.3" r="1.25"/><circle cx="158.7" cy="314.0" r="1.25"/><circle cx="142.0" cy="294.8" r="1.25"/><circle cx="148.1" cy="315.9" r="1.25"/><circle cx="146.5" cy="299.5" r="1.25"/><circle cx="142.9" cy="315.9" r="1.25"/><circle cx="138.5" cy="266.2" r="1.25"/><circle cx="154.3" cy="315.7" r="1.25"/><circle cx="154.5" cy="303.0" r="1.25"/><circle cx="155.3" cy="287.4" r="1.25"/><circle cx="149.1" cy="268.2" r="1.25"/><circle cx="130.9" cy="295.5" r="1.25"/><circle cx="145.6" cy="292.8" r="1.25"/><circle cx="128.0" cy="307.3" r="1.25"/><circle cx="146.5" cy="283.0" r="1.25"/><circle cx="97.6" cy="285.1" r="1.25"/><circle cx="120.6" cy="317.8" r="1.25"/><circle cx="111.3" cy="312.5" r="1.25"/><circle cx="102.0" cy="309.1" r="1.25"/><circle cx="94.4" cy="305.9" r="1.25"/><circle cx="107.5" cy="314.4" r="1.25"/><circle cx="89.7" cy="308.4" r="1.25"/><circle cx="90.7" cy="293.9" r="1.25"/><circle cx="95.3" cy="278.7" r="1.25"/><circle cx="98.3" cy="260.0" r="1.25"/><circle cx="166.1" cy="311.9" r="1.25"/><circle cx="157.2" cy="296.8" r="1.25"/><circle cx="155.5" cy="301.4" r="1.25"/><circle cx="158.5" cy="291.8" r="1.25"/><circle cx="155.3" cy="315.4" r="1.25"/><circle cx="165.1" cy="296.7" r="1.25"/><circle cx="158.5" cy="290.7" r="1.25"/><circle cx="153.6" cy="305.9" r="1.25"/></g>
<g fill="#b2d99a" fill-opacity="0.95"><circle cx="107.4" cy="312.2" r="1.25"/><circle cx="104.9" cy="287.4" r="1.25"/><circle cx="117.1" cy="294.0" r="1.25"/><circle cx="120.2" cy="311.8" r="1.25"/><circle cx="116.5" cy="314.0" r="1.25"/><circle cx="108.0" cy="293.8" r="1.25"/><circle cx="116.8" cy="290.3" r="1.25"/><circle cx="107.3" cy="291.5" r="1.25"/><circle cx="116.0" cy="309.3" r="1.25"/><circle cx="110.7" cy="305.2" r="1.25"/><circle cx="119.9" cy="302.9" r="1.25"/><circle cx="108.1" cy="293.6" r="1.25"/><circle cx="109.0" cy="304.5" r="1.25"/><circle cx="111.9" cy="300.9" r="1.25"/><circle cx="114.8" cy="293.1" r="1.25"/><circle cx="108.5" cy="309.7" r="1.25"/><circle cx="141.7" cy="305.1" r="1.25"/><circle cx="155.1" cy="304.4" r="1.25"/><circle cx="145.6" cy="309.9" r="1.25"/><circle cx="143.7" cy="316.1" r="1.25"/><circle cx="159.8" cy="300.6" r="1.25"/><circle cx="149.2" cy="313.5" r="1.25"/></g>
<g fill="#1a6ea8" fill-opacity="1"><circle cx="94" cy="248.7" r="1.45"/><circle cx="111.5" cy="274.7" r="1.45"/><circle cx="116.6" cy="284.1" r="1.45"/><circle cx="111.8" cy="286.9" r="1.45"/><circle cx="136.4" cy="257.3" r="1.45"/><circle cx="153.2" cy="274.6" r="1.45"/><circle cx="130.7" cy="286" r="1.45"/><circle cx="149.8" cy="288.4" r="1.45"/><circle cx="187.5" cy="295.8" r="1.45"/><circle cx="168.1" cy="297.6" r="1.45"/><circle cx="155.5" cy="296.7" r="1.45"/><circle cx="161" cy="301" r="1.45"/><circle cx="157.5" cy="306.7" r="1.45"/><circle cx="114" cy="296" r="1.45"/><circle cx="118" cy="306" r="1.45"/><circle cx="143.5" cy="294.7" r="1.45"/><circle cx="145.2" cy="306.8" r="1.45"/><circle cx="152.3" cy="303.4" r="1.45"/><circle cx="149.2" cy="303.5" r="1.45"/><circle cx="146.9" cy="296.1" r="1.45"/><circle cx="152.4" cy="310.6" r="1.45"/><circle cx="135.3" cy="302.7" r="1.45"/><circle cx="146.5" cy="308.6" r="1.45"/><circle cx="145.8" cy="312.7" r="1.45"/><circle cx="133.6" cy="293.9" r="1.45"/><circle cx="141.5" cy="301.5" r="1.45"/><circle cx="145.6" cy="304.1" r="1.45"/><circle cx="132.5" cy="298.1" r="1.45"/><circle cx="147.3" cy="303.7" r="1.45"/><circle cx="133.3" cy="296.6" r="1.45"/><circle cx="153.8" cy="310.5" r="1.45"/><circle cx="139.3" cy="295.6" r="1.45"/><circle cx="140.2" cy="297.7" r="1.45"/><circle cx="141.2" cy="292.0" r="1.45"/><circle cx="151.7" cy="309.1" r="1.45"/><circle cx="135.1" cy="296.6" r="1.45"/><circle cx="145.1" cy="296.3" r="1.45"/><circle cx="139.3" cy="298.8" r="1.45"/><circle cx="154.8" cy="305.4" r="1.45"/><circle cx="134.7" cy="299.0" r="1.45"/><circle cx="133.1" cy="295.3" r="1.45"/><circle cx="134.6" cy="302.2" r="1.45"/><circle cx="137.6" cy="301.6" r="1.45"/><circle cx="139.9" cy="291.9" r="1.45"/><circle cx="149.4" cy="299.4" r="1.45"/></g>
<g fill="#1b84c6" fill-opacity="1"><circle cx="133.2" cy="308.9" r="1.45"/><circle cx="135.7" cy="317.5" r="1.45"/><circle cx="139.6" cy="309.0" r="1.45"/><circle cx="135.3" cy="307.5" r="1.45"/><circle cx="142.2" cy="310.2" r="1.45"/><circle cx="140.2" cy="314.9" r="1.45"/><circle cx="134.9" cy="310.5" r="1.45"/><circle cx="132.0" cy="317.0" r="1.45"/><circle cx="134.9" cy="315.5" r="1.45"/><circle cx="137.2" cy="306.2" r="1.45"/><circle cx="135.7" cy="308.6" r="1.45"/><circle cx="138.1" cy="305.9" r="1.45"/><circle cx="134.7" cy="311.0" r="1.45"/><circle cx="137.5" cy="307.3" r="1.45"/><circle cx="139.5" cy="308.9" r="1.45"/><circle cx="139.7" cy="314.2" r="1.45"/><circle cx="132.8" cy="308.2" r="1.45"/><circle cx="134.4" cy="314.8" r="1.45"/><circle cx="135.9" cy="310.5" r="1.45"/><circle cx="141.4" cy="308.4" r="1.45"/><circle cx="134.5" cy="310.0" r="1.45"/><circle cx="131.3" cy="313.7" r="1.45"/><circle cx="137.8" cy="316.0" r="1.45"/><circle cx="133.6" cy="314.5" r="1.45"/><circle cx="141.4" cy="308.5" r="1.45"/><circle cx="138.6" cy="306.7" r="1.45"/><circle cx="136.1" cy="310.6" r="1.45"/><circle cx="131.7" cy="310.5" r="1.45"/><circle cx="134.9" cy="312.0" r="1.45"/><circle cx="134.4" cy="307.6" r="1.45"/><circle cx="135.8" cy="311.7" r="1.45"/><circle cx="133.0" cy="314.1" r="1.45"/><circle cx="133.9" cy="306.7" r="1.45"/><circle cx="135.1" cy="311.0" r="1.45"/><circle cx="132.8" cy="313.1" r="1.45"/><circle cx="139.4" cy="312.7" r="1.45"/><circle cx="135.7" cy="310.2" r="1.45"/><circle cx="131.8" cy="310.8" r="1.45"/><circle cx="131.7" cy="311.9" r="1.45"/><circle cx="138.0" cy="311.6" r="1.45"/><circle cx="134.9" cy="308.8" r="1.45"/><circle cx="141.7" cy="312.9" r="1.45"/><circle cx="132.7" cy="318.3" r="1.45"/><circle cx="131.3" cy="317.1" r="1.45"/><circle cx="134.5" cy="317.7" r="1.45"/><circle cx="139.3" cy="318.0" r="1.45"/><circle cx="133.0" cy="319.4" r="1.45"/><circle cx="143.8" cy="316.5" r="1.45"/><circle cx="145.6" cy="315.0" r="1.45"/><circle cx="136.9" cy="318.2" r="1.45"/><circle cx="137.9" cy="318.1" r="1.45"/><circle cx="138.1" cy="319.4" r="1.45"/><circle cx="145.4" cy="316.2" r="1.45"/><circle cx="134.2" cy="319.8" r="1.45"/><circle cx="133.6" cy="318.7" r="1.45"/><circle cx="140.5" cy="318.5" r="1.45"/></g>
<g fill="#17a047" fill-opacity="1"><circle cx="106.3" cy="310.9" r="1.45"/><circle cx="113.3" cy="309.2" r="1.45"/><circle cx="110.8" cy="300.4" r="1.45"/><circle cx="118.7" cy="308.3" r="1.45"/><circle cx="108.0" cy="299.2" r="1.45"/><circle cx="109.8" cy="296.7" r="1.45"/><circle cx="105.1" cy="313.3" r="1.45"/><circle cx="105.4" cy="305.8" r="1.45"/><circle cx="108.3" cy="307.5" r="1.45"/><circle cx="110.0" cy="314.8" r="1.45"/><circle cx="120.7" cy="316.8" r="1.45"/><circle cx="114.9" cy="304.8" r="1.45"/><circle cx="117.8" cy="310.9" r="1.45"/><circle cx="120.5" cy="316.0" r="1.45"/><circle cx="105.6" cy="303.4" r="1.45"/><circle cx="106.9" cy="289.9" r="1.45"/><circle cx="115.3" cy="319.9" r="1.45"/><circle cx="117.4" cy="304.8" r="1.45"/><circle cx="116.3" cy="304.0" r="1.45"/><circle cx="105.5" cy="291.3" r="1.45"/><circle cx="109.0" cy="314.0" r="1.45"/><circle cx="114.4" cy="306.7" r="1.45"/><circle cx="110.8" cy="301.2" r="1.45"/><circle cx="119.8" cy="317.1" r="1.45"/><circle cx="109.0" cy="303.9" r="1.45"/><circle cx="116.0" cy="315.0" r="1.45"/><circle cx="117.6" cy="308.6" r="1.45"/><circle cx="106.7" cy="294.1" r="1.45"/><circle cx="107.8" cy="306.7" r="1.45"/><circle cx="110.7" cy="299.6" r="1.45"/><circle cx="104.6" cy="296.9" r="1.45"/><circle cx="113.2" cy="304.6" r="1.45"/><circle cx="104.2" cy="308.8" r="1.45"/><circle cx="116.8" cy="310.9" r="1.45"/><circle cx="112.3" cy="316.9" r="1.45"/><circle cx="105.5" cy="292.7" r="1.45"/><circle cx="110.5" cy="314.7" r="1.45"/><circle cx="109.5" cy="307.7" r="1.45"/><circle cx="114.1" cy="316.3" r="1.45"/><circle cx="119.6" cy="314.2" r="1.45"/><circle cx="111.4" cy="316.1" r="1.45"/><circle cx="120.4" cy="315.1" r="1.45"/><circle cx="111.2" cy="303.2" r="1.45"/><circle cx="116.8" cy="316.3" r="1.45"/><circle cx="110.7" cy="311.3" r="1.45"/><circle cx="110.4" cy="300.2" r="1.45"/><circle cx="105.0" cy="302.1" r="1.45"/><circle cx="118.6" cy="308.6" r="1.45"/><circle cx="107.0" cy="304.7" r="1.45"/><circle cx="111.7" cy="311.0" r="1.45"/><circle cx="112.7" cy="308.8" r="1.45"/><circle cx="115.2" cy="320.2" r="1.45"/><circle cx="111.1" cy="316.9" r="1.45"/><circle cx="109.2" cy="310.5" r="1.45"/><circle cx="110.2" cy="315.6" r="1.45"/><circle cx="108.5" cy="309.5" r="1.45"/><circle cx="117.1" cy="309.9" r="1.45"/><circle cx="117.2" cy="306.4" r="1.45"/><circle cx="116.7" cy="319.2" r="1.45"/><circle cx="121.3" cy="314.7" r="1.45"/><circle cx="114.6" cy="313.6" r="1.45"/><circle cx="118.1" cy="311.4" r="1.45"/><circle cx="117.6" cy="310.8" r="1.45"/><circle cx="112.3" cy="306.8" r="1.45"/><circle cx="116.4" cy="313.7" r="1.45"/><circle cx="116.9" cy="311.3" r="1.45"/><circle cx="116.3" cy="314.1" r="1.45"/><circle cx="119.0" cy="308.6" r="1.45"/><circle cx="119.0" cy="320.8" r="1.45"/><circle cx="112.6" cy="318.8" r="1.45"/><circle cx="114.3" cy="306.9" r="1.45"/><circle cx="121.0" cy="315.1" r="1.45"/><circle cx="122.8" cy="318.2" r="1.45"/><circle cx="120.2" cy="312.5" r="1.45"/><circle cx="121.5" cy="316.2" r="1.45"/><circle cx="113.6" cy="313.0" r="1.45"/><circle cx="110.3" cy="315.0" r="1.45"/><circle cx="106.4" cy="313.4" r="1.45"/><circle cx="120.0" cy="312.1" r="1.45"/><circle cx="121.2" cy="317.2" r="1.45"/><circle cx="115.4" cy="319.5" r="1.45"/><circle cx="112.0" cy="303.6" r="1.45"/><circle cx="105.7" cy="309.3" r="1.45"/><circle cx="121.4" cy="318.3" r="1.45"/><circle cx="107.2" cy="305.7" r="1.45"/><circle cx="112.4" cy="318.5" r="1.45"/><circle cx="116.7" cy="319.4" r="1.45"/><circle cx="108.9" cy="314.7" r="1.45"/><circle cx="121.7" cy="316.4" r="1.45"/><circle cx="108.7" cy="315.4" r="1.45"/><circle cx="111.5" cy="308.6" r="1.45"/><circle cx="117.0" cy="307.9" r="1.45"/><circle cx="116.5" cy="315.9" r="1.45"/><circle cx="108.4" cy="304.3" r="1.45"/><circle cx="118.2" cy="311.7" r="1.45"/><circle cx="107.5" cy="304.0" r="1.45"/><circle cx="111.8" cy="306.0" r="1.45"/><circle cx="119.0" cy="309.6" r="1.45"/><circle cx="110.9" cy="310.5" r="1.45"/><circle cx="107.8" cy="314.7" r="1.45"/><circle cx="113.1" cy="318.0" r="1.45"/><circle cx="112.8" cy="311.5" r="1.45"/><circle cx="114.6" cy="320.1" r="1.45"/><circle cx="111.6" cy="316.0" r="1.45"/><circle cx="109.5" cy="313.8" r="1.45"/><circle cx="117.9" cy="311.5" r="1.45"/><circle cx="119.1" cy="314.2" r="1.45"/><circle cx="113.5" cy="302.5" r="1.45"/><circle cx="113.0" cy="307.9" r="1.45"/><circle cx="110.6" cy="315.9" r="1.45"/><circle cx="117.8" cy="307.1" r="1.45"/><circle cx="112.8" cy="304.4" r="1.45"/><circle cx="113.0" cy="309.2" r="1.45"/><circle cx="120.6" cy="318.5" r="1.45"/><circle cx="116.2" cy="313.2" r="1.45"/><circle cx="106.7" cy="309.6" r="1.45"/><circle cx="112.1" cy="316.4" r="1.45"/><circle cx="117.7" cy="309.2" r="1.45"/><circle cx="119.3" cy="317.1" r="1.45"/><circle cx="119.2" cy="316.7" r="1.45"/><circle cx="124.1" cy="319.1" r="1.45"/><circle cx="127.9" cy="319.5" r="1.45"/><circle cx="117.6" cy="319.6" r="1.45"/><circle cx="113.0" cy="317.1" r="1.45"/><circle cx="111.4" cy="317.4" r="1.45"/><circle cx="123.0" cy="320.3" r="1.45"/><circle cx="114.1" cy="320.9" r="1.45"/><circle cx="125.5" cy="320.6" r="1.45"/><circle cx="110.9" cy="318.0" r="1.45"/><circle cx="120.9" cy="318.5" r="1.45"/><circle cx="115.2" cy="318.3" r="1.45"/><circle cx="113.2" cy="317.8" r="1.45"/><circle cx="121.4" cy="317.9" r="1.45"/><circle cx="117.8" cy="319.2" r="1.45"/><circle cx="125.6" cy="320.1" r="1.45"/><circle cx="111.8" cy="318.5" r="1.45"/><circle cx="123.4" cy="321.2" r="1.45"/><circle cx="109.9" cy="316.2" r="1.45"/><circle cx="115.9" cy="318.2" r="1.45"/><circle cx="123.7" cy="321.5" r="1.45"/><circle cx="130.7" cy="318.8" r="1.45"/><circle cx="120.0" cy="321.7" r="1.45"/><circle cx="117.5" cy="316.5" r="1.45"/><circle cx="116.8" cy="317.6" r="1.45"/><circle cx="119.4" cy="317.0" r="1.45"/><circle cx="118.3" cy="317.8" r="1.45"/><circle cx="113.3" cy="314.8" r="1.45"/><circle cx="116.9" cy="316.7" r="1.45"/><circle cx="122.2" cy="322.2" r="1.45"/><circle cx="116.8" cy="319.1" r="1.45"/><circle cx="116.9" cy="316.6" r="1.45"/><circle cx="122.6" cy="319.0" r="1.45"/><circle cx="115.6" cy="318.2" r="1.45"/><circle cx="120.4" cy="320.4" r="1.45"/><circle cx="114.0" cy="316.3" r="1.45"/><circle cx="114.9" cy="319.8" r="1.45"/><circle cx="115.6" cy="321.0" r="1.45"/><circle cx="126.9" cy="319.5" r="1.45"/><circle cx="121.3" cy="321.9" r="1.45"/><circle cx="130.4" cy="320.4" r="1.45"/><circle cx="124.3" cy="322.4" r="1.45"/><circle cx="118.7" cy="317.7" r="1.45"/><circle cx="110.8" cy="316.7" r="1.45"/><circle cx="124.0" cy="318.7" r="1.45"/><circle cx="121.4" cy="321.8" r="1.45"/><circle cx="113.1" cy="317.5" r="1.45"/><circle cx="120.9" cy="321.1" r="1.45"/><circle cx="118.4" cy="317.2" r="1.45"/><circle cx="124.2" cy="321.9" r="1.45"/><circle cx="119.8" cy="319.9" r="1.45"/><circle cx="117.3" cy="320.6" r="1.45"/><circle cx="112.0" cy="319.0" r="1.45"/><circle cx="112.9" cy="316.9" r="1.45"/><circle cx="111.9" cy="317.0" r="1.45"/><circle cx="122.2" cy="318.4" r="1.45"/><circle cx="117.3" cy="318.9" r="1.45"/><circle cx="122.0" cy="318.1" r="1.45"/><circle cx="114.3" cy="320.2" r="1.45"/></g>
<g fill="#157a33" fill-opacity="1"><circle cx="95" cy="300" r="1.45"/><circle cx="98.5" cy="303.5" r="1.45"/><circle cx="102.5" cy="300.5" r="1.45"/><circle cx="103.5" cy="306" r="1.45"/><circle cx="106.5" cy="303" r="1.45"/><circle cx="108" cy="296.5" r="1.45"/><circle cx="110.5" cy="300" r="1.45"/><circle cx="97" cy="309" r="1.45"/><circle cx="100.5" cy="313.5" r="1.45"/><circle cx="93.5" cy="311" r="1.45"/><circle cx="83.8" cy="273.5" r="1.45"/><circle cx="107.1" cy="285.8" r="1.45"/><circle cx="105.2" cy="290.7" r="1.45"/><circle cx="96.6" cy="298.4" r="1.45"/><circle cx="90.5" cy="301.2" r="1.45"/><circle cx="89.8" cy="307.6" r="1.45"/><circle cx="102.3" cy="296.7" r="1.45"/><circle cx="158.4" cy="311.9" r="1.45"/><circle cx="151.1" cy="302.2" r="1.45"/><circle cx="99" cy="305" r="1.45"/><circle cx="101" cy="311" r="1.45"/></g>
<rect x="247.2" y="173.3" width="166.0" height="153.89999999999998" fill="none" stroke="#222" stroke-width="1.1"/>
<line x1="244.6" y1="320.0" x2="247.2" y2="320.0" stroke="#222" stroke-width="0.8"/>
<text x="241.6" y="322.05" font-size="6.0" text-anchor="end" font-weight="normal" fill="#303030" stroke="#303030" stroke-width="0.1" >0</text>
<line x1="244.6" y1="285.0" x2="247.2" y2="285.0" stroke="#222" stroke-width="0.8"/>
<text x="241.6" y="287.05" font-size="6.0" text-anchor="end" font-weight="normal" fill="#303030" stroke="#303030" stroke-width="0.1" >10</text>
<line x1="244.6" y1="250.0" x2="247.2" y2="250.0" stroke="#222" stroke-width="0.8"/>
<text x="241.6" y="252.05" font-size="6.0" text-anchor="end" font-weight="normal" fill="#303030" stroke="#303030" stroke-width="0.1" >20</text>
<line x1="244.6" y1="215.0" x2="247.2" y2="215.0" stroke="#222" stroke-width="0.8"/>
<text x="241.6" y="217.05" font-size="6.0" text-anchor="end" font-weight="normal" fill="#303030" stroke="#303030" stroke-width="0.1" >30</text>
<line x1="244.6" y1="180.0" x2="247.2" y2="180.0" stroke="#222" stroke-width="0.8"/>
<text x="241.6" y="182.05" font-size="6.0" text-anchor="end" font-weight="normal" fill="#303030" stroke="#303030" stroke-width="0.1" >40</text>
<line x1="279.90000000000003" y1="327.2" x2="279.90000000000003" y2="329.8" stroke="#222" stroke-width="0.8"/>
<text x="279.90000000000003" y="338.4" font-size="6.0" text-anchor="middle" font-weight="normal" fill="#303030" stroke="#303030" stroke-width="0.1" >−2</text>
<line x1="330.3" y1="327.2" x2="330.3" y2="329.8" stroke="#222" stroke-width="0.8"/>
<text x="330.3" y="338.4" font-size="6.0" text-anchor="middle" font-weight="normal" fill="#303030" stroke="#303030" stroke-width="0.1" >0</text>
<line x1="380.7" y1="327.2" x2="380.7" y2="329.8" stroke="#222" stroke-width="0.8"/>
<text x="380.7" y="338.4" font-size="6.0" text-anchor="middle" font-weight="normal" fill="#303030" stroke="#303030" stroke-width="0.1" >2</text>
<text x="330.5" y="168.5" font-size="8.1" text-anchor="middle" font-weight="normal" fill="#1c1c1c" stroke="#1c1c1c" stroke-width="0.1" >DNMT3A CD14+ Monocytes</text>
<text transform="translate(330.3,349.6) scale(0.705,1)" font-size="7.4" text-anchor="middle" fill="#1e1e1e" stroke="#1e1e1e" stroke-width="0.34">Log2FoldChange</text>
<text transform="translate(229.6,250) rotate(-90) scale(0.773,1)" font-size="7.4" text-anchor="middle" fill="#1e1e1e" stroke="#1e1e1e" stroke-width="0.34">-Log10(padj)</text>
<g fill="#d6d6d6" fill-opacity="0.7"><circle cx="292.2" cy="236.1" r="1.35"/><circle cx="291.3" cy="244" r="1.35"/><circle cx="311.4" cy="252.3" r="1.35"/><circle cx="295.4" cy="262.8" r="1.35"/><circle cx="274.7" cy="275.2" r="1.35"/><circle cx="275" cy="304.3" r="1.35"/><circle cx="346.8" cy="235.7" r="1.35"/><circle cx="350.4" cy="235.7" r="1.35"/><circle cx="350.4" cy="243.8" r="1.35"/><circle cx="354.1" cy="255.8" r="1.35"/><circle cx="347.7" cy="259.7" r="1.35"/><circle cx="337.9" cy="264.3" r="1.35"/><circle cx="341.6" cy="265" r="1.35"/><circle cx="351.7" cy="264.3" r="1.35"/><circle cx="346.8" cy="268.7" r="1.35"/><circle cx="379" cy="283.7" r="1.35"/><circle cx="385.5" cy="303" r="1.35"/><circle cx="368.9" cy="312.6" r="1.35"/><circle cx="326.8" cy="317.9" r="1.35"/><circle cx="315.0" cy="293.0" r="1.35"/><circle cx="312.8" cy="273.9" r="1.35"/><circle cx="300.8" cy="294.1" r="1.35"/><circle cx="301.8" cy="294.7" r="1.35"/><circle cx="319.2" cy="292.8" r="1.35"/><circle cx="312.2" cy="308.5" r="1.35"/><circle cx="306.7" cy="267.2" r="1.35"/><circle cx="321.8" cy="301.6" r="1.35"/><circle cx="317.4" cy="303.1" r="1.35"/><circle cx="314.3" cy="305.0" r="1.35"/><circle cx="305.2" cy="270.1" r="1.35"/><circle cx="310.8" cy="307.7" r="1.35"/><circle cx="315.0" cy="294.3" r="1.35"/><circle cx="316.8" cy="277.9" r="1.35"/><circle cx="300.3" cy="287.2" r="1.35"/><circle cx="314.3" cy="312.3" r="1.35"/><circle cx="305.7" cy="289.9" r="1.35"/><circle cx="304.2" cy="286.1" r="1.35"/><circle cx="321.6" cy="299.6" r="1.35"/><circle cx="303.2" cy="272.0" r="1.35"/><circle cx="321.8" cy="307.2" r="1.35"/><circle cx="313.4" cy="316.6" r="1.35"/><circle cx="315.0" cy="317.7" r="1.35"/><circle cx="296.0" cy="292.6" r="1.35"/><circle cx="318.4" cy="318.9" r="1.35"/><circle cx="322.6" cy="317.9" r="1.35"/><circle cx="313.1" cy="319.5" r="1.35"/><circle cx="300.9" cy="269.1" r="1.35"/><circle cx="310.5" cy="279.0" r="1.35"/><circle cx="327.1" cy="317.9" r="1.35"/><circle cx="301.7" cy="271.7" r="1.35"/><circle cx="312.8" cy="277.0" r="1.35"/><circle cx="313.3" cy="312.0" r="1.35"/><circle cx="303.0" cy="292.9" r="1.35"/><circle cx="306.2" cy="315.5" r="1.35"/><circle cx="322.9" cy="315.6" r="1.35"/><circle cx="318.4" cy="292.4" r="1.35"/><circle cx="318.6" cy="312.7" r="1.35"/><circle cx="316.7" cy="281.8" r="1.35"/><circle cx="304.5" cy="292.2" r="1.35"/><circle cx="321.4" cy="300.0" r="1.35"/><circle cx="313.5" cy="312.6" r="1.35"/><circle cx="297.8" cy="303.6" r="1.35"/><circle cx="305.8" cy="300.1" r="1.35"/><circle cx="314.0" cy="299.2" r="1.35"/><circle cx="302.3" cy="300.2" r="1.35"/><circle cx="310.7" cy="294.4" r="1.35"/><circle cx="307.4" cy="310.8" r="1.35"/><circle cx="301.2" cy="306.0" r="1.35"/><circle cx="300.1" cy="294.4" r="1.35"/><circle cx="309.0" cy="269.7" r="1.35"/><circle cx="318.8" cy="296.0" r="1.35"/><circle cx="318.5" cy="299.1" r="1.35"/><circle cx="313.7" cy="298.4" r="1.35"/><circle cx="321.6" cy="305.6" r="1.35"/><circle cx="315.5" cy="285.3" r="1.35"/><circle cx="305.3" cy="288.8" r="1.35"/><circle cx="306.1" cy="291.0" r="1.35"/><circle cx="308.9" cy="312.2" r="1.35"/><circle cx="311.0" cy="299.8" r="1.35"/><circle cx="303.1" cy="284.4" r="1.35"/><circle cx="297.2" cy="280.4" r="1.35"/><circle cx="303.4" cy="313.7" r="1.35"/><circle cx="311.8" cy="272.3" r="1.35"/><circle cx="310.4" cy="273.2" r="1.35"/><circle cx="314.1" cy="294.0" r="1.35"/><circle cx="303.8" cy="289.5" r="1.35"/><circle cx="308.0" cy="305.9" r="1.35"/><circle cx="304.4" cy="269.3" r="1.35"/><circle cx="298.9" cy="308.4" r="1.35"/><circle cx="310.6" cy="307.3" r="1.35"/><circle cx="314.2" cy="310.1" r="1.35"/><circle cx="323.2" cy="302.2" r="1.35"/><circle cx="315.0" cy="287.4" r="1.35"/><circle cx="298.8" cy="270.7" r="1.35"/><circle cx="309.1" cy="286.8" r="1.35"/><circle cx="316.0" cy="298.8" r="1.35"/><circle cx="306.8" cy="304.6" r="1.35"/><circle cx="320.4" cy="316.9" r="1.35"/><circle cx="305.1" cy="315.2" r="1.35"/><circle cx="328.8" cy="319.3" r="1.35"/><circle cx="298.6" cy="290.5" r="1.35"/><circle cx="321.5" cy="312.8" r="1.35"/><circle cx="295.4" cy="291.4" r="1.35"/><circle cx="319.7" cy="309.6" r="1.35"/><circle cx="313.0" cy="279.9" r="1.35"/><circle cx="308.4" cy="267.3" r="1.35"/><circle cx="305.2" cy="293.2" r="1.35"/><circle cx="323.2" cy="301.6" r="1.35"/><circle cx="308.7" cy="282.3" r="1.35"/><circle cx="305.2" cy="305.5" r="1.35"/><circle cx="309.8" cy="277.3" r="1.35"/><circle cx="323.2" cy="300.9" r="1.35"/><circle cx="316.1" cy="293.2" r="1.35"/><circle cx="315.6" cy="316.6" r="1.35"/><circle cx="309.3" cy="267.8" r="1.35"/><circle cx="307.6" cy="267.2" r="1.35"/><circle cx="295.2" cy="291.1" r="1.35"/><circle cx="319.2" cy="305.4" r="1.35"/><circle cx="303.7" cy="276.9" r="1.35"/><circle cx="314.9" cy="297.8" r="1.35"/><circle cx="313.3" cy="273.2" r="1.35"/><circle cx="296.4" cy="295.7" r="1.35"/><circle cx="299.2" cy="304.1" r="1.35"/><circle cx="305.0" cy="303.1" r="1.35"/><circle cx="320.6" cy="302.4" r="1.35"/><circle cx="312.9" cy="279.0" r="1.35"/><circle cx="303.5" cy="284.8" r="1.35"/><circle cx="311.5" cy="299.4" r="1.35"/><circle cx="322.1" cy="300.6" r="1.35"/><circle cx="318.5" cy="317.8" r="1.35"/><circle cx="326.7" cy="318.7" r="1.35"/><circle cx="322.2" cy="307.8" r="1.35"/><circle cx="312.2" cy="284.0" r="1.35"/><circle cx="314.3" cy="319.7" r="1.35"/><circle cx="317.0" cy="314.7" r="1.35"/><circle cx="301.0" cy="308.5" r="1.35"/><circle cx="301.7" cy="267.6" r="1.35"/><circle cx="322.7" cy="309.6" r="1.35"/><circle cx="314.2" cy="300.7" r="1.35"/><circle cx="322.3" cy="303.9" r="1.35"/><circle cx="306.6" cy="301.3" r="1.35"/><circle cx="312.2" cy="316.0" r="1.35"/><circle cx="308.7" cy="313.8" r="1.35"/><circle cx="296.9" cy="287.4" r="1.35"/><circle cx="317.8" cy="302.7" r="1.35"/><circle cx="322.5" cy="311.2" r="1.35"/><circle cx="299.1" cy="274.7" r="1.35"/><circle cx="314.7" cy="319.0" r="1.35"/><circle cx="315.8" cy="293.2" r="1.35"/><circle cx="312.0" cy="311.9" r="1.35"/><circle cx="312.5" cy="298.9" r="1.35"/><circle cx="315.1" cy="317.2" r="1.35"/><circle cx="322.4" cy="313.2" r="1.35"/><circle cx="303.5" cy="302.1" r="1.35"/><circle cx="323.2" cy="307.7" r="1.35"/><circle cx="327.8" cy="316.4" r="1.35"/><circle cx="298.5" cy="297.5" r="1.35"/><circle cx="306.7" cy="279.6" r="1.35"/><circle cx="311.8" cy="319.3" r="1.35"/><circle cx="302.8" cy="289.9" r="1.35"/><circle cx="299.7" cy="299.6" r="1.35"/><circle cx="302.8" cy="265.0" r="1.35"/><circle cx="315.0" cy="319.6" r="1.35"/><circle cx="321.5" cy="308.6" r="1.35"/><circle cx="299.4" cy="300.2" r="1.35"/><circle cx="316.6" cy="309.6" r="1.35"/><circle cx="309.9" cy="266.8" r="1.35"/><circle cx="320.2" cy="295.2" r="1.35"/><circle cx="363.1" cy="293.7" r="1.35"/><circle cx="335.2" cy="298.1" r="1.35"/><circle cx="350.9" cy="313.1" r="1.35"/><circle cx="347.9" cy="308.3" r="1.35"/><circle cx="346.7" cy="310.9" r="1.35"/><circle cx="338.6" cy="316.3" r="1.35"/><circle cx="359.6" cy="279.4" r="1.35"/><circle cx="361.2" cy="312.3" r="1.35"/><circle cx="369.9" cy="307.0" r="1.35"/><circle cx="343.6" cy="302.6" r="1.35"/><circle cx="352.7" cy="318.9" r="1.35"/><circle cx="357.3" cy="306.5" r="1.35"/><circle cx="347.7" cy="311.1" r="1.35"/><circle cx="355.8" cy="296.9" r="1.35"/><circle cx="345.2" cy="282.9" r="1.35"/><circle cx="343.7" cy="277.3" r="1.35"/><circle cx="351.2" cy="294.3" r="1.35"/><circle cx="358.4" cy="315.1" r="1.35"/><circle cx="342.6" cy="280.2" r="1.35"/><circle cx="356.2" cy="287.6" r="1.35"/><circle cx="371.4" cy="297.9" r="1.35"/><circle cx="367.4" cy="288.7" r="1.35"/><circle cx="335.3" cy="306.7" r="1.35"/><circle cx="359.6" cy="289.3" r="1.35"/><circle cx="361.1" cy="311.4" r="1.35"/><circle cx="361.1" cy="293.7" r="1.35"/><circle cx="353.5" cy="305.1" r="1.35"/><circle cx="346.7" cy="292.5" r="1.35"/><circle cx="363.6" cy="280.2" r="1.35"/><circle cx="336.2" cy="298.4" r="1.35"/><circle cx="366.6" cy="294.5" r="1.35"/><circle cx="335.6" cy="308.4" r="1.35"/><circle cx="345.0" cy="304.4" r="1.35"/><circle cx="361.8" cy="299.4" r="1.35"/><circle cx="361.2" cy="306.4" r="1.35"/><circle cx="366.0" cy="312.0" r="1.35"/><circle cx="342.9" cy="301.5" r="1.35"/><circle cx="362.8" cy="312.8" r="1.35"/><circle cx="361.1" cy="315.0" r="1.35"/><circle cx="364.9" cy="303.1" r="1.35"/><circle cx="357.4" cy="273.7" r="1.35"/><circle cx="350.8" cy="310.6" r="1.35"/><circle cx="349.3" cy="287.7" r="1.35"/><circle cx="367.4" cy="307.9" r="1.35"/><circle cx="339.3" cy="273.0" r="1.35"/><circle cx="367.1" cy="304.6" r="1.35"/><circle cx="335.9" cy="320.2" r="1.35"/><circle cx="355.3" cy="311.9" r="1.35"/><circle cx="364.2" cy="289.3" r="1.35"/><circle cx="352.7" cy="284.2" r="1.35"/><circle cx="356.3" cy="298.4" r="1.35"/><circle cx="363.5" cy="280.2" r="1.35"/><circle cx="339.8" cy="296.1" r="1.35"/><circle cx="338.8" cy="314.6" r="1.35"/><circle cx="340.6" cy="288.3" r="1.35"/><circle cx="359.8" cy="292.1" r="1.35"/><circle cx="343.3" cy="287.7" r="1.35"/><circle cx="342.4" cy="290.0" r="1.35"/><circle cx="356.1" cy="290.4" r="1.35"/><circle cx="349.7" cy="301.5" r="1.35"/><circle cx="336.7" cy="294.6" r="1.35"/><circle cx="348.0" cy="296.2" r="1.35"/><circle cx="359.5" cy="287.6" r="1.35"/><circle cx="368.4" cy="291.6" r="1.35"/><circle cx="364.9" cy="288.7" r="1.35"/><circle cx="339.2" cy="290.0" r="1.35"/><circle cx="338.9" cy="291.2" r="1.35"/><circle cx="341.0" cy="287.7" r="1.35"/><circle cx="367.9" cy="297.1" r="1.35"/><circle cx="354.5" cy="296.7" r="1.35"/><circle cx="337.4" cy="300.0" r="1.35"/><circle cx="336.0" cy="296.6" r="1.35"/><circle cx="359.3" cy="303.9" r="1.35"/><circle cx="335.7" cy="294.4" r="1.35"/><circle cx="347.5" cy="298.2" r="1.35"/><circle cx="371.9" cy="297.5" r="1.35"/><circle cx="360.9" cy="303.6" r="1.35"/><circle cx="367.6" cy="303.3" r="1.35"/><circle cx="354.1" cy="287.8" r="1.35"/><circle cx="365.7" cy="303.8" r="1.35"/><circle cx="362.2" cy="292.6" r="1.35"/><circle cx="372.6" cy="299.1" r="1.35"/><circle cx="347.5" cy="302.6" r="1.35"/><circle cx="344.2" cy="291.0" r="1.35"/><circle cx="368.6" cy="294.3" r="1.35"/><circle cx="357.3" cy="300.5" r="1.35"/><circle cx="369.8" cy="290.6" r="1.35"/><circle cx="339.2" cy="296.8" r="1.35"/><circle cx="344.2" cy="294.9" r="1.35"/><circle cx="357.2" cy="287.0" r="1.35"/><circle cx="345.8" cy="294.1" r="1.35"/><circle cx="366.2" cy="289.6" r="1.35"/><circle cx="363.3" cy="287.2" r="1.35"/><circle cx="363.9" cy="305.7" r="1.35"/><circle cx="345.5" cy="289.4" r="1.35"/><circle cx="348.6" cy="304.1" r="1.35"/><circle cx="365.2" cy="289.2" r="1.35"/><circle cx="369.8" cy="301.6" r="1.35"/><circle cx="341.7" cy="301.3" r="1.35"/><circle cx="356.0" cy="290.8" r="1.35"/><circle cx="344.0" cy="293.5" r="1.35"/><circle cx="353.1" cy="305.4" r="1.35"/><circle cx="357.7" cy="297.7" r="1.35"/><circle cx="362.9" cy="289.9" r="1.35"/><circle cx="366.1" cy="302.1" r="1.35"/><circle cx="366.5" cy="295.4" r="1.35"/><circle cx="356.2" cy="287.5" r="1.35"/><circle cx="353.0" cy="299.5" r="1.35"/><circle cx="348.5" cy="301.9" r="1.35"/><circle cx="361.4" cy="292.9" r="1.35"/><circle cx="357.2" cy="295.6" r="1.35"/><circle cx="369.1" cy="299.1" r="1.35"/><circle cx="343.3" cy="289.4" r="1.35"/><circle cx="365.3" cy="293.8" r="1.35"/><circle cx="344.2" cy="297.7" r="1.35"/><circle cx="343.1" cy="297.1" r="1.35"/><circle cx="348.7" cy="292.7" r="1.35"/><circle cx="361.8" cy="291.2" r="1.35"/><circle cx="348.2" cy="297.9" r="1.35"/><circle cx="371.3" cy="289.1" r="1.35"/><circle cx="347.3" cy="291.7" r="1.35"/><circle cx="347.6" cy="296.2" r="1.35"/><circle cx="366.7" cy="289.7" r="1.35"/><circle cx="362.9" cy="295.1" r="1.35"/><circle cx="357.3" cy="296.6" r="1.35"/><circle cx="358.5" cy="289.7" r="1.35"/><circle cx="359.0" cy="294.4" r="1.35"/><circle cx="365.3" cy="298.5" r="1.35"/><circle cx="340.4" cy="300.5" r="1.35"/><circle cx="339.2" cy="301.5" r="1.35"/><circle cx="339.0" cy="292.2" r="1.35"/><circle cx="359.2" cy="286.3" r="1.35"/><circle cx="363.2" cy="294.2" r="1.35"/><circle cx="370.0" cy="298.0" r="1.35"/><circle cx="366.4" cy="293.2" r="1.35"/><circle cx="350.1" cy="300.8" r="1.35"/><circle cx="364.5" cy="300.6" r="1.35"/><circle cx="341.4" cy="294.8" r="1.35"/><circle cx="347.7" cy="290.8" r="1.35"/><circle cx="340.1" cy="301.8" r="1.35"/><circle cx="341.0" cy="293.4" r="1.35"/><circle cx="359.3" cy="287.6" r="1.35"/><circle cx="364.1" cy="303.0" r="1.35"/><circle cx="346.0" cy="290.9" r="1.35"/><circle cx="336.5" cy="299.4" r="1.35"/><circle cx="358.0" cy="293.6" r="1.35"/><circle cx="364.0" cy="290.9" r="1.35"/><circle cx="346.3" cy="288.3" r="1.35"/><circle cx="344.6" cy="303.9" r="1.35"/><circle cx="354.2" cy="301.5" r="1.35"/><circle cx="368.5" cy="300.0" r="1.35"/><circle cx="338.7" cy="294.7" r="1.35"/><circle cx="369.2" cy="300.4" r="1.35"/><circle cx="349.1" cy="303.4" r="1.35"/><circle cx="364.3" cy="301.2" r="1.35"/><circle cx="345.8" cy="300.3" r="1.35"/><circle cx="360.5" cy="303.7" r="1.35"/><circle cx="355.1" cy="305.6" r="1.35"/><circle cx="362.9" cy="290.3" r="1.35"/><circle cx="357.6" cy="290.1" r="1.35"/><circle cx="359.0" cy="292.8" r="1.35"/><circle cx="365.6" cy="303.6" r="1.35"/><circle cx="349.8" cy="298.4" r="1.35"/><circle cx="344.5" cy="293.9" r="1.35"/><circle cx="352.3" cy="301.0" r="1.35"/><circle cx="354.9" cy="289.3" r="1.35"/><circle cx="360.2" cy="296.8" r="1.35"/><circle cx="355.6" cy="295.3" r="1.35"/><circle cx="368.5" cy="299.8" r="1.35"/><circle cx="360.7" cy="296.5" r="1.35"/><circle cx="350.9" cy="295.0" r="1.35"/><circle cx="361.4" cy="295.2" r="1.35"/><circle cx="338.3" cy="290.6" r="1.35"/><circle cx="349.3" cy="293.9" r="1.35"/><circle cx="353.0" cy="290.2" r="1.35"/><circle cx="344.5" cy="295.4" r="1.35"/><circle cx="346.7" cy="291.4" r="1.35"/><circle cx="354.3" cy="302.1" r="1.35"/><circle cx="352.6" cy="304.9" r="1.35"/><circle cx="359.6" cy="293.6" r="1.35"/><circle cx="366.9" cy="303.8" r="1.35"/><circle cx="365.6" cy="294.2" r="1.35"/><circle cx="371.2" cy="299.1" r="1.35"/><circle cx="351.3" cy="303.5" r="1.35"/><circle cx="355.9" cy="295.6" r="1.35"/><circle cx="342.7" cy="302.5" r="1.35"/><circle cx="341.2" cy="292.3" r="1.35"/><circle cx="346.9" cy="286.8" r="1.35"/><circle cx="353.4" cy="293.3" r="1.35"/><circle cx="336.4" cy="295.7" r="1.35"/><circle cx="346.5" cy="290.8" r="1.35"/><circle cx="356.2" cy="293.0" r="1.35"/><circle cx="372.4" cy="290.9" r="1.35"/><circle cx="360.6" cy="298.3" r="1.35"/><circle cx="345.1" cy="297.3" r="1.35"/><circle cx="345.7" cy="291.7" r="1.35"/><circle cx="352.8" cy="286.9" r="1.35"/><circle cx="364.8" cy="292.9" r="1.35"/><circle cx="367.9" cy="292.7" r="1.35"/><circle cx="369.5" cy="295.5" r="1.35"/><circle cx="368.7" cy="288.8" r="1.35"/><circle cx="350.6" cy="293.2" r="1.35"/><circle cx="365.2" cy="304.2" r="1.35"/><circle cx="340.8" cy="294.6" r="1.35"/><circle cx="342.2" cy="287.3" r="1.35"/><circle cx="347.1" cy="295.0" r="1.35"/><circle cx="369.9" cy="299.7" r="1.35"/><circle cx="364.5" cy="292.9" r="1.35"/><circle cx="347.9" cy="294.6" r="1.35"/><circle cx="337.6" cy="296.6" r="1.35"/><circle cx="344.5" cy="302.1" r="1.35"/><circle cx="337.1" cy="296.7" r="1.35"/><circle cx="363.1" cy="295.7" r="1.35"/><circle cx="366.6" cy="304.6" r="1.35"/><circle cx="368.4" cy="293.7" r="1.35"/><circle cx="359.4" cy="295.9" r="1.35"/><circle cx="357.8" cy="294.0" r="1.35"/><circle cx="368.0" cy="292.4" r="1.35"/><circle cx="356.9" cy="287.3" r="1.35"/><circle cx="349.2" cy="293.8" r="1.35"/><circle cx="341.6" cy="297.4" r="1.35"/><circle cx="354.0" cy="298.7" r="1.35"/><circle cx="346.0" cy="291.7" r="1.35"/><circle cx="371.4" cy="298.5" r="1.35"/><circle cx="356.5" cy="300.6" r="1.35"/><circle cx="364.1" cy="289.7" r="1.35"/><circle cx="365.3" cy="296.1" r="1.35"/><circle cx="341.4" cy="292.6" r="1.35"/><circle cx="369.8" cy="296.5" r="1.35"/><circle cx="359.8" cy="294.3" r="1.35"/><circle cx="363.5" cy="297.3" r="1.35"/><circle cx="354.6" cy="286.8" r="1.35"/><circle cx="366.5" cy="287.9" r="1.35"/><circle cx="346.3" cy="295.5" r="1.35"/><circle cx="343.7" cy="295.4" r="1.35"/><circle cx="352.3" cy="297.1" r="1.35"/><circle cx="360.4" cy="300.4" r="1.35"/><circle cx="337.6" cy="290.9" r="1.35"/><circle cx="340.1" cy="293.0" r="1.35"/><circle cx="353.0" cy="304.0" r="1.35"/><circle cx="341.6" cy="301.6" r="1.35"/><circle cx="357.5" cy="287.1" r="1.35"/><circle cx="346.6" cy="295.1" r="1.35"/><circle cx="361.2" cy="306.4" r="1.35"/><circle cx="340.6" cy="299.7" r="1.35"/><circle cx="343.5" cy="298.3" r="1.35"/><circle cx="354.9" cy="297.5" r="1.35"/><circle cx="348.9" cy="305.2" r="1.35"/><circle cx="346.8" cy="293.6" r="1.35"/><circle cx="341.8" cy="292.0" r="1.35"/><circle cx="340.7" cy="299.5" r="1.35"/><circle cx="336.5" cy="291.0" r="1.35"/><circle cx="366.2" cy="304.0" r="1.35"/><circle cx="348.5" cy="301.5" r="1.35"/><circle cx="366.3" cy="299.7" r="1.35"/><circle cx="359.2" cy="301.9" r="1.35"/><circle cx="347.8" cy="292.9" r="1.35"/><circle cx="345.4" cy="290.8" r="1.35"/><circle cx="355.1" cy="297.3" r="1.35"/><circle cx="342.9" cy="287.7" r="1.35"/><circle cx="341.6" cy="299.1" r="1.35"/><circle cx="366.4" cy="297.2" r="1.35"/><circle cx="360.0" cy="294.8" r="1.35"/><circle cx="364.6" cy="289.0" r="1.35"/><circle cx="347.4" cy="300.4" r="1.35"/><circle cx="362.4" cy="289.4" r="1.35"/><circle cx="350.3" cy="294.1" r="1.35"/><circle cx="356.3" cy="303.3" r="1.35"/><circle cx="341.2" cy="293.9" r="1.35"/><circle cx="370.6" cy="289.7" r="1.35"/><circle cx="342.4" cy="302.6" r="1.35"/><circle cx="359.3" cy="296.0" r="1.35"/><circle cx="353.0" cy="287.2" r="1.35"/><circle cx="359.9" cy="291.5" r="1.35"/><circle cx="352.4" cy="305.6" r="1.35"/><circle cx="354.4" cy="294.3" r="1.35"/><circle cx="349.0" cy="291.9" r="1.35"/><circle cx="359.1" cy="301.1" r="1.35"/><circle cx="350.6" cy="289.4" r="1.35"/><circle cx="358.3" cy="289.3" r="1.35"/><circle cx="354.8" cy="296.0" r="1.35"/><circle cx="372.5" cy="292.7" r="1.35"/><circle cx="345.6" cy="293.1" r="1.35"/><circle cx="360.6" cy="291.0" r="1.35"/><circle cx="344.8" cy="301.0" r="1.35"/><circle cx="364.6" cy="307.5" r="1.35"/><circle cx="352.5" cy="312.6" r="1.35"/><circle cx="356.0" cy="315.2" r="1.35"/><circle cx="349.3" cy="313.9" r="1.35"/><circle cx="350.4" cy="312.9" r="1.35"/><circle cx="363.7" cy="310.6" r="1.35"/><circle cx="363.9" cy="308.1" r="1.35"/><circle cx="363.0" cy="312.9" r="1.35"/><circle cx="349.8" cy="315.0" r="1.35"/><circle cx="357.4" cy="311.9" r="1.35"/><circle cx="358.9" cy="311.9" r="1.35"/><circle cx="365.5" cy="311.7" r="1.35"/><circle cx="357.9" cy="315.6" r="1.35"/><circle cx="349.3" cy="315.9" r="1.35"/><circle cx="359.7" cy="310.0" r="1.35"/><circle cx="349.3" cy="312.2" r="1.35"/><circle cx="351.3" cy="309.1" r="1.35"/><circle cx="356.3" cy="314.1" r="1.35"/><circle cx="366.5" cy="306.2" r="1.35"/><circle cx="362.3" cy="311.6" r="1.35"/><circle cx="356.2" cy="312.6" r="1.35"/><circle cx="361.3" cy="309.1" r="1.35"/><circle cx="358.0" cy="315.6" r="1.35"/><circle cx="348.3" cy="308.8" r="1.35"/><circle cx="352.4" cy="311.4" r="1.35"/><circle cx="353.0" cy="312.3" r="1.35"/><circle cx="349.7" cy="312.8" r="1.35"/><circle cx="362.6" cy="312.1" r="1.35"/><circle cx="349.5" cy="310.8" r="1.35"/><circle cx="365.5" cy="310.3" r="1.35"/></g>
<g fill="#a6cee3" fill-opacity="0.7"><circle cx="288.5" cy="247.5" r="1.25"/><circle cx="357.8" cy="273.9" r="1.25"/><circle cx="348.7" cy="284.3" r="1.25"/><circle cx="368.6" cy="288.9" r="1.25"/><circle cx="355.2" cy="289.3" r="1.25"/><circle cx="351.3" cy="299.8" r="1.25"/><circle cx="348.7" cy="275.4" r="1.25"/><circle cx="355.6" cy="295.2" r="1.25"/><circle cx="364.7" cy="290.5" r="1.25"/><circle cx="346.3" cy="275.4" r="1.25"/><circle cx="344.2" cy="272.9" r="1.25"/><circle cx="356.1" cy="291.6" r="1.25"/><circle cx="354.9" cy="286.4" r="1.25"/><circle cx="362.0" cy="296.0" r="1.25"/><circle cx="371.1" cy="292.0" r="1.25"/><circle cx="355.9" cy="269.9" r="1.25"/><circle cx="349.4" cy="274.6" r="1.25"/><circle cx="370.7" cy="292.7" r="1.25"/><circle cx="344.1" cy="279.5" r="1.25"/><circle cx="353.5" cy="289.4" r="1.25"/><circle cx="362.4" cy="282.0" r="1.25"/><circle cx="368.9" cy="285.0" r="1.25"/><circle cx="364.5" cy="287.8" r="1.25"/><circle cx="363.0" cy="293.7" r="1.25"/><circle cx="352.5" cy="283.2" r="1.25"/><circle cx="359.9" cy="292.3" r="1.25"/><circle cx="359.0" cy="280.2" r="1.25"/><circle cx="355.6" cy="285.3" r="1.25"/><circle cx="352.2" cy="278.9" r="1.25"/><circle cx="345.0" cy="271.0" r="1.25"/><circle cx="352.8" cy="299.0" r="1.25"/><circle cx="362.0" cy="299.6" r="1.25"/><circle cx="360.9" cy="300.6" r="1.25"/><circle cx="350.9" cy="290.2" r="1.25"/><circle cx="370.5" cy="301.5" r="1.25"/><circle cx="356.8" cy="279.2" r="1.25"/><circle cx="358.9" cy="291.7" r="1.25"/><circle cx="340.1" cy="281.2" r="1.25"/><circle cx="367.0" cy="298.2" r="1.25"/><circle cx="367.6" cy="297.4" r="1.25"/><circle cx="354.6" cy="282.4" r="1.25"/><circle cx="355.3" cy="285.6" r="1.25"/><circle cx="301.7" cy="281.0" r="1.25"/><circle cx="300.6" cy="286.4" r="1.25"/><circle cx="321.0" cy="319.3" r="1.25"/><circle cx="321.2" cy="308.7" r="1.25"/><circle cx="309.5" cy="290.1" r="1.25"/><circle cx="313.4" cy="318.1" r="1.25"/><circle cx="318.5" cy="302.6" r="1.25"/><circle cx="325.6" cy="315.7" r="1.25"/><circle cx="308.1" cy="283.7" r="1.25"/><circle cx="302.4" cy="269.9" r="1.25"/><circle cx="311.7" cy="277.4" r="1.25"/><circle cx="317.7" cy="319.6" r="1.25"/><circle cx="308.4" cy="313.8" r="1.25"/><circle cx="313.6" cy="293.7" r="1.25"/></g>
<g fill="#b2d99a" fill-opacity="0.95"><circle cx="307.9" cy="249" r="1.25"/><circle cx="297.6" cy="254.5" r="1.25"/><circle cx="301.8" cy="258.2" r="1.25"/><circle cx="315.3" cy="265.2" r="1.25"/><circle cx="310.3" cy="307.7" r="1.25"/><circle cx="311.1" cy="306.7" r="1.25"/><circle cx="306.9" cy="282.2" r="1.25"/><circle cx="327.9" cy="317.3" r="1.25"/><circle cx="305.8" cy="303.2" r="1.25"/><circle cx="307.7" cy="289.1" r="1.25"/><circle cx="310.2" cy="281.9" r="1.25"/><circle cx="311.0" cy="276.3" r="1.25"/><circle cx="309.2" cy="310.3" r="1.25"/><circle cx="305.0" cy="266.5" r="1.25"/><circle cx="308.7" cy="298.1" r="1.25"/><circle cx="310.4" cy="292.2" r="1.25"/><circle cx="322.2" cy="305.2" r="1.25"/><circle cx="311.7" cy="300.9" r="1.25"/><circle cx="311.7" cy="309.5" r="1.25"/><circle cx="317.6" cy="297.3" r="1.25"/><circle cx="306.7" cy="271.3" r="1.25"/><circle cx="309.0" cy="313.6" r="1.25"/><circle cx="304.0" cy="280.3" r="1.25"/><circle cx="313.2" cy="270.9" r="1.25"/><circle cx="315.4" cy="289.1" r="1.25"/><circle cx="315.6" cy="313.0" r="1.25"/><circle cx="320.2" cy="295.4" r="1.25"/><circle cx="316.0" cy="306.2" r="1.25"/><circle cx="318.3" cy="313.3" r="1.25"/><circle cx="308.8" cy="278.8" r="1.25"/><circle cx="309.8" cy="314.4" r="1.25"/><circle cx="315.6" cy="309.8" r="1.25"/><circle cx="321.9" cy="310.9" r="1.25"/><circle cx="315.8" cy="298.6" r="1.25"/><circle cx="314.7" cy="295.0" r="1.25"/><circle cx="307.7" cy="301.0" r="1.25"/><circle cx="313.3" cy="290.7" r="1.25"/><circle cx="315.9" cy="289.4" r="1.25"/><circle cx="311.9" cy="274.0" r="1.25"/><circle cx="318.3" cy="289.9" r="1.25"/><circle cx="316.0" cy="294.5" r="1.25"/><circle cx="308.8" cy="278.1" r="1.25"/><circle cx="317.8" cy="287.0" r="1.25"/><circle cx="305.7" cy="279.3" r="1.25"/><circle cx="302.3" cy="290.3" r="1.25"/><circle cx="304.0" cy="268.2" r="1.25"/><circle cx="320.5" cy="317.7" r="1.25"/><circle cx="306.5" cy="302.3" r="1.25"/><circle cx="306.2" cy="297.6" r="1.25"/><circle cx="324.5" cy="314.9" r="1.25"/><circle cx="305.1" cy="300.2" r="1.25"/><circle cx="315.6" cy="294.8" r="1.25"/><circle cx="307.0" cy="302.5" r="1.25"/><circle cx="306.1" cy="306.1" r="1.25"/><circle cx="313.0" cy="298.0" r="1.25"/><circle cx="324.1" cy="319.1" r="1.25"/><circle cx="310.2" cy="285.7" r="1.25"/><circle cx="309.5" cy="305.1" r="1.25"/><circle cx="316.2" cy="300.3" r="1.25"/><circle cx="318.5" cy="284.1" r="1.25"/><circle cx="316.0" cy="299.0" r="1.25"/><circle cx="318.9" cy="304.2" r="1.25"/><circle cx="315.8" cy="301.9" r="1.25"/><circle cx="306.4" cy="290.5" r="1.25"/><circle cx="308.6" cy="299.6" r="1.25"/><circle cx="314.5" cy="280.8" r="1.25"/><circle cx="311.2" cy="279.2" r="1.25"/><circle cx="325.8" cy="316.9" r="1.25"/><circle cx="303.2" cy="294.7" r="1.25"/><circle cx="312.8" cy="282.9" r="1.25"/><circle cx="319.9" cy="312.6" r="1.25"/><circle cx="313.1" cy="301.3" r="1.25"/><circle cx="307.0" cy="273.7" r="1.25"/><circle cx="312.2" cy="313.9" r="1.25"/><circle cx="307.5" cy="295.9" r="1.25"/><circle cx="312.1" cy="314.4" r="1.25"/><circle cx="323.3" cy="300.3" r="1.25"/><circle cx="308.4" cy="289.7" r="1.25"/><circle cx="303.5" cy="294.8" r="1.25"/><circle cx="318.6" cy="305.3" r="1.25"/><circle cx="318.4" cy="297.9" r="1.25"/><circle cx="310.0" cy="282.8" r="1.25"/><circle cx="310.0" cy="314.5" r="1.25"/><circle cx="314.3" cy="316.3" r="1.25"/></g>
<g fill="#1b84c6" fill-opacity="1"><circle cx="346.8" cy="306.1" r="1.45"/><circle cx="350.7" cy="294.8" r="1.45"/><circle cx="346.6" cy="305.2" r="1.45"/><circle cx="346.8" cy="306.6" r="1.45"/><circle cx="352.1" cy="311.9" r="1.45"/><circle cx="344.8" cy="305.7" r="1.45"/><circle cx="338.0" cy="315.0" r="1.45"/><circle cx="337.8" cy="302.8" r="1.45"/><circle cx="342.2" cy="316.9" r="1.45"/><circle cx="346.6" cy="299.7" r="1.45"/><circle cx="338.8" cy="304.1" r="1.45"/><circle cx="339.6" cy="313.3" r="1.45"/><circle cx="335.0" cy="310.5" r="1.45"/><circle cx="357.3" cy="307.8" r="1.45"/><circle cx="353.0" cy="310.0" r="1.45"/><circle cx="350.0" cy="313.4" r="1.45"/><circle cx="344.5" cy="311.9" r="1.45"/><circle cx="344.7" cy="315.9" r="1.45"/><circle cx="356.7" cy="304.7" r="1.45"/><circle cx="354.2" cy="301.8" r="1.45"/><circle cx="346.7" cy="296.9" r="1.45"/><circle cx="340.4" cy="314.9" r="1.45"/><circle cx="337.8" cy="311.2" r="1.45"/><circle cx="345.1" cy="295.9" r="1.45"/><circle cx="344.9" cy="311.9" r="1.45"/><circle cx="334.4" cy="307.2" r="1.45"/><circle cx="354.0" cy="303.1" r="1.45"/><circle cx="342.2" cy="311.0" r="1.45"/><circle cx="333.9" cy="312.3" r="1.45"/><circle cx="342.1" cy="317.2" r="1.45"/><circle cx="334.3" cy="306.6" r="1.45"/><circle cx="340.5" cy="298.6" r="1.45"/><circle cx="348.3" cy="299.9" r="1.45"/><circle cx="347.5" cy="301.8" r="1.45"/><circle cx="348.7" cy="312.3" r="1.45"/><circle cx="360.4" cy="302.4" r="1.45"/><circle cx="340.4" cy="300.6" r="1.45"/><circle cx="342.9" cy="307.1" r="1.45"/><circle cx="349.8" cy="306.6" r="1.45"/><circle cx="337.6" cy="315.6" r="1.45"/><circle cx="351.9" cy="307.2" r="1.45"/><circle cx="343.1" cy="310.5" r="1.45"/><circle cx="340.0" cy="307.7" r="1.45"/><circle cx="345.5" cy="313.8" r="1.45"/><circle cx="352.3" cy="310.9" r="1.45"/><circle cx="349.5" cy="295.0" r="1.45"/><circle cx="352.8" cy="302.5" r="1.45"/><circle cx="341.4" cy="309.9" r="1.45"/><circle cx="342.3" cy="309.6" r="1.45"/><circle cx="351.8" cy="310.9" r="1.45"/><circle cx="340.0" cy="310.0" r="1.45"/><circle cx="342.9" cy="312.0" r="1.45"/><circle cx="358.2" cy="306.3" r="1.45"/><circle cx="337.2" cy="311.5" r="1.45"/><circle cx="333.9" cy="309.0" r="1.45"/><circle cx="335.9" cy="312.9" r="1.45"/><circle cx="342.6" cy="314.6" r="1.45"/><circle cx="347.7" cy="302.0" r="1.45"/><circle cx="353.4" cy="301.6" r="1.45"/><circle cx="345.8" cy="295.7" r="1.45"/><circle cx="346.5" cy="310.8" r="1.45"/><circle cx="355.1" cy="302.8" r="1.45"/><circle cx="358.0" cy="306.3" r="1.45"/><circle cx="352.0" cy="305.7" r="1.45"/><circle cx="341.1" cy="310.0" r="1.45"/><circle cx="353.2" cy="309.8" r="1.45"/><circle cx="338.1" cy="299.9" r="1.45"/><circle cx="342.4" cy="311.2" r="1.45"/><circle cx="360.9" cy="299.5" r="1.45"/><circle cx="347.4" cy="314.6" r="1.45"/><circle cx="351.8" cy="310.3" r="1.45"/><circle cx="355.8" cy="305.7" r="1.45"/><circle cx="339.1" cy="304.2" r="1.45"/><circle cx="341.8" cy="307.4" r="1.45"/><circle cx="336.0" cy="315.6" r="1.45"/><circle cx="351.5" cy="313.0" r="1.45"/><circle cx="345.7" cy="302.8" r="1.45"/><circle cx="351.2" cy="311.0" r="1.45"/><circle cx="345.2" cy="309.2" r="1.45"/><circle cx="333.7" cy="312.7" r="1.45"/><circle cx="345.1" cy="297.2" r="1.45"/><circle cx="342.0" cy="308.6" r="1.45"/><circle cx="352.0" cy="312.2" r="1.45"/><circle cx="342.5" cy="313.3" r="1.45"/><circle cx="356.8" cy="304.3" r="1.45"/></g>
<g fill="#1a6ea8" fill-opacity="1"><circle cx="363.7" cy="266.9" r="1.45"/><circle cx="348.6" cy="275.7" r="1.45"/><circle cx="347.7" cy="278.9" r="1.45"/><circle cx="353.2" cy="281.3" r="1.45"/><circle cx="349.5" cy="283.7" r="1.45"/><circle cx="352.3" cy="286.4" r="1.45"/><circle cx="372.2" cy="280.4" r="1.45"/><circle cx="336.2" cy="290.9" r="1.45"/><circle cx="374.4" cy="292.3" r="1.45"/><circle cx="375.4" cy="300.1" r="1.45"/><circle cx="312.3" cy="284.4" r="1.45"/><circle cx="287.4" cy="306.2" r="1.45"/><circle cx="316" cy="318" r="1.45"/><circle cx="318" cy="316" r="1.45"/><circle cx="351.7" cy="311.1" r="1.45"/><circle cx="345.1" cy="311.3" r="1.45"/><circle cx="334.9" cy="313.7" r="1.45"/><circle cx="334.4" cy="317.3" r="1.45"/><circle cx="351.4" cy="304.4" r="1.45"/><circle cx="347.3" cy="305.6" r="1.45"/><circle cx="335.3" cy="314.8" r="1.45"/><circle cx="342.2" cy="311.5" r="1.45"/><circle cx="344.6" cy="301.9" r="1.45"/><circle cx="349.7" cy="302.1" r="1.45"/><circle cx="337.9" cy="313.9" r="1.45"/><circle cx="345.9" cy="311.4" r="1.45"/><circle cx="337.8" cy="308.1" r="1.45"/><circle cx="337.6" cy="302.4" r="1.45"/><circle cx="355.5" cy="307.3" r="1.45"/><circle cx="361.5" cy="296.3" r="1.45"/><circle cx="342.1" cy="316.7" r="1.45"/><circle cx="340.6" cy="311.8" r="1.45"/><circle cx="342.2" cy="307.5" r="1.45"/><circle cx="340.8" cy="312.6" r="1.45"/><circle cx="342.5" cy="305.8" r="1.45"/><circle cx="351.8" cy="304.6" r="1.45"/><circle cx="358.5" cy="304.5" r="1.45"/><circle cx="346.8" cy="315.7" r="1.45"/><circle cx="352.3" cy="310.7" r="1.45"/><circle cx="345.5" cy="305.3" r="1.45"/><circle cx="340.2" cy="305.3" r="1.45"/><circle cx="342.8" cy="303.5" r="1.45"/><circle cx="353.2" cy="297.2" r="1.45"/><circle cx="345.8" cy="315.0" r="1.45"/><circle cx="342.9" cy="308.8" r="1.45"/><circle cx="360.3" cy="299.1" r="1.45"/><circle cx="345.9" cy="309.4" r="1.45"/><circle cx="359.1" cy="297.9" r="1.45"/><circle cx="345.4" cy="309.6" r="1.45"/></g>
<g fill="#17a047" fill-opacity="1"><circle cx="305.8" cy="309.2" r="1.45"/><circle cx="318.8" cy="299.5" r="1.45"/><circle cx="323.6" cy="313.1" r="1.45"/><circle cx="311.4" cy="307.9" r="1.45"/><circle cx="304.8" cy="307.1" r="1.45"/><circle cx="324.3" cy="309.2" r="1.45"/><circle cx="313.3" cy="310.8" r="1.45"/><circle cx="315.3" cy="299.1" r="1.45"/><circle cx="322.0" cy="304.8" r="1.45"/><circle cx="323.0" cy="311.8" r="1.45"/><circle cx="314.7" cy="289.9" r="1.45"/><circle cx="317.9" cy="314.5" r="1.45"/><circle cx="321.8" cy="310.8" r="1.45"/><circle cx="306.5" cy="294.5" r="1.45"/><circle cx="317.7" cy="304.8" r="1.45"/><circle cx="307.1" cy="312.0" r="1.45"/><circle cx="312.7" cy="292.9" r="1.45"/><circle cx="306.9" cy="309.6" r="1.45"/><circle cx="306.9" cy="311.7" r="1.45"/><circle cx="306.1" cy="303.9" r="1.45"/><circle cx="314.4" cy="311.4" r="1.45"/><circle cx="313.2" cy="315.0" r="1.45"/><circle cx="303.9" cy="306.0" r="1.45"/><circle cx="306.2" cy="306.4" r="1.45"/><circle cx="312.1" cy="312.7" r="1.45"/><circle cx="309.4" cy="305.0" r="1.45"/><circle cx="315.7" cy="311.0" r="1.45"/><circle cx="309.1" cy="310.5" r="1.45"/><circle cx="305.1" cy="311.4" r="1.45"/><circle cx="318.1" cy="317.2" r="1.45"/><circle cx="307.1" cy="314.6" r="1.45"/><circle cx="302.9" cy="309.0" r="1.45"/><circle cx="308.6" cy="291.8" r="1.45"/><circle cx="318.5" cy="311.9" r="1.45"/><circle cx="318.0" cy="295.3" r="1.45"/><circle cx="304.6" cy="308.1" r="1.45"/><circle cx="314.4" cy="298.1" r="1.45"/><circle cx="310.4" cy="305.6" r="1.45"/><circle cx="316.2" cy="310.0" r="1.45"/><circle cx="316.6" cy="301.1" r="1.45"/><circle cx="314.0" cy="295.3" r="1.45"/><circle cx="314.7" cy="312.8" r="1.45"/><circle cx="312.5" cy="311.4" r="1.45"/><circle cx="308.9" cy="290.4" r="1.45"/><circle cx="314.2" cy="300.1" r="1.45"/><circle cx="316.4" cy="306.4" r="1.45"/><circle cx="307.5" cy="292.4" r="1.45"/><circle cx="316.8" cy="301.3" r="1.45"/><circle cx="325.9" cy="314.0" r="1.45"/><circle cx="311.2" cy="294.8" r="1.45"/><circle cx="314.8" cy="293.3" r="1.45"/><circle cx="311.3" cy="308.0" r="1.45"/><circle cx="314.2" cy="299.1" r="1.45"/><circle cx="318.4" cy="312.4" r="1.45"/><circle cx="313.3" cy="290.9" r="1.45"/><circle cx="312.5" cy="306.8" r="1.45"/><circle cx="304.6" cy="310.5" r="1.45"/><circle cx="310.3" cy="286.0" r="1.45"/><circle cx="305.0" cy="313.0" r="1.45"/><circle cx="322.5" cy="305.0" r="1.45"/><circle cx="315.9" cy="302.9" r="1.45"/><circle cx="322.4" cy="312.5" r="1.45"/><circle cx="311.3" cy="307.0" r="1.45"/><circle cx="310.3" cy="286.0" r="1.45"/><circle cx="309.9" cy="297.8" r="1.45"/><circle cx="314.3" cy="303.8" r="1.45"/><circle cx="313.5" cy="301.8" r="1.45"/><circle cx="321.9" cy="307.3" r="1.45"/><circle cx="312.7" cy="297.5" r="1.45"/><circle cx="320.6" cy="308.0" r="1.45"/><circle cx="311.0" cy="287.4" r="1.45"/><circle cx="320.1" cy="314.7" r="1.45"/><circle cx="311.2" cy="291.1" r="1.45"/><circle cx="304.9" cy="306.5" r="1.45"/><circle cx="323.4" cy="314.6" r="1.45"/><circle cx="311.0" cy="312.2" r="1.45"/><circle cx="310.3" cy="301.3" r="1.45"/><circle cx="308.1" cy="290.0" r="1.45"/><circle cx="307.7" cy="307.9" r="1.45"/><circle cx="316.8" cy="313.9" r="1.45"/><circle cx="308.4" cy="303.9" r="1.45"/><circle cx="309.0" cy="299.4" r="1.45"/><circle cx="309.7" cy="317.0" r="1.45"/><circle cx="318.6" cy="316.8" r="1.45"/><circle cx="308.5" cy="302.0" r="1.45"/><circle cx="312.6" cy="311.0" r="1.45"/><circle cx="305.1" cy="309.6" r="1.45"/><circle cx="321.5" cy="303.7" r="1.45"/><circle cx="317.3" cy="294.0" r="1.45"/><circle cx="306.2" cy="304.9" r="1.45"/><circle cx="322.0" cy="316.5" r="1.45"/><circle cx="306.9" cy="297.4" r="1.45"/><circle cx="311.8" cy="286.1" r="1.45"/><circle cx="314.3" cy="306.2" r="1.45"/><circle cx="309.8" cy="288.9" r="1.45"/><circle cx="309.0" cy="290.1" r="1.45"/><circle cx="324.8" cy="312.2" r="1.45"/><circle cx="309.8" cy="304.5" r="1.45"/><circle cx="305.2" cy="309.8" r="1.45"/><circle cx="312.6" cy="307.3" r="1.45"/><circle cx="326.1" cy="316.7" r="1.45"/><circle cx="322.6" cy="306.7" r="1.45"/><circle cx="311.7" cy="303.5" r="1.45"/><circle cx="314.6" cy="302.7" r="1.45"/><circle cx="309.8" cy="304.5" r="1.45"/><circle cx="321.3" cy="319.5" r="1.45"/><circle cx="316.2" cy="319.1" r="1.45"/><circle cx="320.8" cy="318.5" r="1.45"/><circle cx="336.2" cy="318.9" r="1.45"/><circle cx="330.2" cy="320.3" r="1.45"/><circle cx="328.2" cy="320.8" r="1.45"/><circle cx="325.9" cy="321.3" r="1.45"/><circle cx="326.4" cy="319.3" r="1.45"/><circle cx="337.8" cy="320.6" r="1.45"/><circle cx="320.0" cy="320.8" r="1.45"/><circle cx="325.5" cy="321.3" r="1.45"/><circle cx="332.6" cy="320.2" r="1.45"/><circle cx="333.1" cy="321.1" r="1.45"/><circle cx="338.2" cy="319.9" r="1.45"/><circle cx="333.7" cy="319.4" r="1.45"/><circle cx="337.7" cy="319.4" r="1.45"/><circle cx="316.7" cy="317.1" r="1.45"/><circle cx="338.2" cy="317.7" r="1.45"/><circle cx="323.1" cy="320.7" r="1.45"/><circle cx="317.3" cy="318.3" r="1.45"/><circle cx="330.9" cy="319.5" r="1.45"/><circle cx="325.9" cy="318.9" r="1.45"/><circle cx="328.7" cy="322.0" r="1.45"/><circle cx="321.5" cy="320.2" r="1.45"/><circle cx="331.2" cy="320.9" r="1.45"/><circle cx="325.0" cy="321.8" r="1.45"/><circle cx="326.6" cy="321.6" r="1.45"/><circle cx="326.4" cy="320.7" r="1.45"/><circle cx="320.3" cy="317.8" r="1.45"/><circle cx="327.9" cy="320.1" r="1.45"/><circle cx="327.1" cy="321.4" r="1.45"/><circle cx="335.6" cy="319.0" r="1.45"/><circle cx="316.8" cy="318.7" r="1.45"/><circle cx="321.5" cy="320.4" r="1.45"/><circle cx="336.1" cy="318.7" r="1.45"/><circle cx="326.2" cy="322.0" r="1.45"/><circle cx="319.6" cy="320.5" r="1.45"/><circle cx="315.8" cy="317.9" r="1.45"/><circle cx="326.7" cy="321.9" r="1.45"/><circle cx="318.3" cy="319.9" r="1.45"/><circle cx="332.7" cy="321.2" r="1.45"/><circle cx="325.5" cy="319.9" r="1.45"/><circle cx="323.3" cy="318.5" r="1.45"/><circle cx="316.9" cy="320.8" r="1.45"/><circle cx="320.2" cy="319.5" r="1.45"/><circle cx="333.2" cy="319.6" r="1.45"/><circle cx="318.9" cy="320.3" r="1.45"/><circle cx="326.1" cy="318.6" r="1.45"/><circle cx="334.9" cy="320.1" r="1.45"/><circle cx="318.1" cy="318.6" r="1.45"/><circle cx="317.8" cy="319.4" r="1.45"/><circle cx="324.0" cy="320.1" r="1.45"/><circle cx="327.4" cy="319.9" r="1.45"/><circle cx="322.2" cy="318.7" r="1.45"/><circle cx="330.6" cy="320.2" r="1.45"/><circle cx="323.7" cy="321.6" r="1.45"/><circle cx="317.1" cy="317.0" r="1.45"/><circle cx="316.5" cy="318.1" r="1.45"/><circle cx="318.8" cy="318.7" r="1.45"/><circle cx="328.9" cy="320.6" r="1.45"/><circle cx="338.6" cy="319.0" r="1.45"/><circle cx="316.9" cy="317.1" r="1.45"/><circle cx="317.0" cy="320.9" r="1.45"/><circle cx="335.4" cy="320.1" r="1.45"/><circle cx="315.3" cy="317.0" r="1.45"/><circle cx="318.2" cy="319.1" r="1.45"/><circle cx="319.5" cy="319.7" r="1.45"/><circle cx="327.5" cy="318.9" r="1.45"/><circle cx="323.5" cy="318.9" r="1.45"/><circle cx="336.9" cy="320.5" r="1.45"/></g>
<g fill="#157a33" fill-opacity="1"><circle cx="313.8" cy="268.9" r="1.45"/><circle cx="288.5" cy="278.5" r="1.45"/><circle cx="286.1" cy="282.2" r="1.45"/><circle cx="310.5" cy="279" r="1.45"/><circle cx="270.4" cy="299.7" r="1.45"/><circle cx="279.7" cy="302.9" r="1.45"/><circle cx="302.7" cy="310.4" r="1.45"/></g>
<text x="421.8" y="182.7" font-size="5.85" text-anchor="start" font-weight="normal" fill="#222" stroke="#222" stroke-width="0.1" >Pathway</text>
<circle cx="423" cy="190.0" r="1.25" fill="#1d9a3c"/>
<text x="428.2" y="192.05" font-size="5.82" text-anchor="start" font-weight="normal" fill="#222" stroke="#222" stroke-width="0.1" >Transport activity</text>
<circle cx="423" cy="199.85" r="1.25" fill="#a9cf98"/>
<text x="428.2" y="201.9" font-size="5.82" text-anchor="start" font-weight="normal" fill="#222" stroke="#222" stroke-width="0.1" >Endoplasmic reticulum regulation</text>
<circle cx="423" cy="209.7" r="1.25" fill="#1f78b4"/>
<text x="428.2" y="211.75" font-size="5.82" text-anchor="start" font-weight="normal" fill="#222" stroke="#222" stroke-width="0.1" >Immune response</text>
<circle cx="423" cy="219.55" r="1.25" fill="#a6cee3"/>
<text x="428.2" y="221.60000000000002" font-size="5.82" text-anchor="start" font-weight="normal" fill="#222" stroke="#222" stroke-width="0.1" >Leukocyte activation</text>
<circle cx="423" cy="229.4" r="1.25" fill="#c8c8c8"/>
<text x="428.2" y="231.45000000000002" font-size="5.82" text-anchor="start" font-weight="normal" fill="#222" stroke="#222" stroke-width="0.1" >Other</text>
<text x="48.9" y="376.1" font-size="7.93" text-anchor="start" font-weight="normal" fill="#222" stroke="#222" stroke-width="0.1" >TET2 CD14+ monocytes activated pathways</text>
<clipPath id="clipE"><rect x="110.8" y="382.9" width="86.7" height="135.39999999999998"/></clipPath>
<g clip-path="url(#clipE)">
<circle cx="193.1" cy="402.3" r="4.9" fill="#1fa53a"/>
<circle cx="124.1" cy="434.5" r="3.8" fill="#4aae46"/>
<circle cx="123.2" cy="466.7" r="5.4" fill="#9ccf7d"/>
<circle cx="114.6" cy="499.0" r="2.0" fill="#4fae48"/>
</g>
<rect x="110.8" y="382.9" width="86.7" height="135.39999999999998" fill="none" stroke="#222" stroke-width="1.1"/>
<line x1="107.8" y1="402.3" x2="110.8" y2="402.3" stroke="#222" stroke-width="0.85"/>
<line x1="107.8" y1="434.5" x2="110.8" y2="434.5" stroke="#222" stroke-width="0.85"/>
<line x1="107.8" y1="466.7" x2="110.8" y2="466.7" stroke="#222" stroke-width="0.85"/>
<line x1="107.8" y1="499.0" x2="110.8" y2="499.0" stroke="#222" stroke-width="0.85"/>
<text x="104.8" y="400.5" font-size="5.9" text-anchor="end" font-weight="normal" fill="#222" stroke="#222" stroke-width="0.1" >ribonucleoprotein complex</text>
<text x="104.8" y="408.1" font-size="5.9" text-anchor="end" font-weight="normal" fill="#222" stroke="#222" stroke-width="0.1" >biogenesis</text>
<text x="104.8" y="436.5" font-size="5.9" text-anchor="end" font-weight="normal" fill="#222" stroke="#222" stroke-width="0.1" >regulation of cell activation</text>
<text x="104.8" y="468.7" font-size="5.9" text-anchor="end" font-weight="normal" fill="#222" stroke="#222" stroke-width="0.1" >leukocyte activation</text>
<text x="104.8" y="501.0" font-size="5.9" text-anchor="end" font-weight="normal" fill="#222" stroke="#222" stroke-width="0.1" >regulation of leukocyte activation</text>
<line x1="113.7" y1="518.3" x2="113.7" y2="520.9" stroke="#222" stroke-width="0.8"/>
<text x="113.7" y="529.8" font-size="6.0" text-anchor="middle" font-weight="normal" fill="#303030" stroke="#303030" stroke-width="0.1" >0.2</text>
<line x1="143.4" y1="518.3" x2="143.4" y2="520.9" stroke="#222" stroke-width="0.8"/>
<text x="143.4" y="529.8" font-size="6.0" text-anchor="middle" font-weight="normal" fill="#303030" stroke="#303030" stroke-width="0.1" >0.3</text>
<line x1="172.8" y1="518.3" x2="172.8" y2="520.9" stroke="#222" stroke-width="0.8"/>
<text x="172.8" y="529.8" font-size="6.0" text-anchor="middle" font-weight="normal" fill="#303030" stroke="#303030" stroke-width="0.1" >0.4</text>
<text transform="translate(154.4,540.6) scale(0.66,1)" font-size="7.8" text-anchor="middle" fill="#1e1e1e" stroke="#1e1e1e" stroke-width="0.34">GeneRatio</text>
<text x="210.0" y="389.0" font-size="6.0" text-anchor="start" font-weight="normal" fill="#222" stroke="#222" stroke-width="0.1" >Count</text>
<circle cx="215.1" cy="397.0" r="3.4" fill="#111"/>
<text x="223.7" y="399.05" font-size="6.0" text-anchor="start" font-weight="normal" fill="#2a2a2a" stroke="#2a2a2a" stroke-width="0.1" >60</text>
<circle cx="215.1" cy="408.9" r="4.15" fill="#111"/>
<text x="223.7" y="410.95" font-size="6.0" text-anchor="start" font-weight="normal" fill="#2a2a2a" stroke="#2a2a2a" stroke-width="0.1" >70</text>
<circle cx="215.1" cy="421.2" r="4.85" fill="#111"/>
<text x="223.7" y="423.25" font-size="6.0" text-anchor="start" font-weight="normal" fill="#2a2a2a" stroke="#2a2a2a" stroke-width="0.1" >80</text>
<circle cx="215.1" cy="433.4" r="5.4" fill="#111"/>
<text x="223.7" y="435.45" font-size="6.0" text-anchor="start" font-weight="normal" fill="#2a2a2a" stroke="#2a2a2a" stroke-width="0.1" >90</text>
<text x="210.2" y="453.9" font-size="6.0" text-anchor="start" font-weight="normal" fill="#222" stroke="#222" stroke-width="0.1" >p.adjust</text>
<defs><linearGradient id="gE" x1="0" y1="0" x2="0" y2="1"><stop offset="0" stop-color="#9dd37a"/><stop offset="1" stop-color="#1fa037"/></linearGradient></defs>
<rect x="209.8" y="458.7" width="10.8" height="54.8" fill="url(#gE)"/>
<line x1="209.8" y1="474.4" x2="212" y2="474.4" stroke="#fff" stroke-width="0.5"/>
<line x1="218.4" y1="474.4" x2="220.6" y2="474.4" stroke="#fff" stroke-width="0.5"/>
<text x="223.7" y="476.45" font-size="6.0" text-anchor="start" font-weight="normal" fill="#2a2a2a" stroke="#2a2a2a" stroke-width="0.1" >0.008</text>
<line x1="209.8" y1="490.5" x2="212" y2="490.5" stroke="#fff" stroke-width="0.5"/>
<line x1="218.4" y1="490.5" x2="220.6" y2="490.5" stroke="#fff" stroke-width="0.5"/>
<text x="223.7" y="492.55" font-size="6.0" text-anchor="start" font-weight="normal" fill="#2a2a2a" stroke="#2a2a2a" stroke-width="0.1" >0.006</text>
<line x1="209.8" y1="506.7" x2="212" y2="506.7" stroke="#fff" stroke-width="0.5"/>
<line x1="218.4" y1="506.7" x2="220.6" y2="506.7" stroke="#fff" stroke-width="0.5"/>
<text x="223.7" y="508.75" font-size="6.0" text-anchor="start" font-weight="normal" fill="#2a2a2a" stroke="#2a2a2a" stroke-width="0.1" >0.004</text>
<text x="281.5" y="376.1" font-size="7.99" text-anchor="start" font-weight="normal" fill="#222" stroke="#222" stroke-width="0.1" >DNMT3A CD14+ monocytes activated pathways</text>
<clipPath id="clipF"><rect x="354.4" y="382.9" width="85.10000000000002" height="135.39999999999998"/></clipPath>
<g clip-path="url(#clipF)">
<circle cx="434.8" cy="402.3" r="5.2" fill="#ee9194"/>
<circle cx="390.8" cy="434.5" r="4.9" fill="#e0141b"/>
<circle cx="372.6" cy="466.7" r="2.1" fill="#d81a1f"/>
<circle cx="358.0" cy="499.0" r="2.7" fill="#e0141b"/>
</g>
<rect x="354.4" y="382.9" width="85.10000000000002" height="135.39999999999998" fill="none" stroke="#222" stroke-width="1.1"/>
<line x1="351.4" y1="402.3" x2="354.4" y2="402.3" stroke="#222" stroke-width="0.85"/>
<line x1="351.4" y1="434.5" x2="354.4" y2="434.5" stroke="#222" stroke-width="0.85"/>
<line x1="351.4" y1="466.7" x2="354.4" y2="466.7" stroke="#222" stroke-width="0.85"/>
<line x1="351.4" y1="499.0" x2="354.4" y2="499.0" stroke="#222" stroke-width="0.85"/>
<text x="348.7" y="404.3" font-size="5.9" text-anchor="end" font-weight="normal" fill="#222" stroke="#222" stroke-width="0.1" >cell activation</text>
<text x="348.7" y="436.5" font-size="5.9" text-anchor="end" font-weight="normal" fill="#222" stroke="#222" stroke-width="0.1" >leukocyte activation</text>
<text x="348.7" y="465.3" font-size="5.9" text-anchor="end" font-weight="normal" fill="#222" stroke="#222" stroke-width="0.1" >regulation of leukocyte</text>
<text x="348.7" y="472.8" font-size="5.9" text-anchor="end" font-weight="normal" fill="#222" stroke="#222" stroke-width="0.1" >activation</text>
<text x="348.7" y="501.0" font-size="5.9" text-anchor="end" font-weight="normal" fill="#222" stroke="#222" stroke-width="0.1" >regulation of cell activation</text>
<line x1="354.5" y1="518.3" x2="354.5" y2="520.9" stroke="#222" stroke-width="0.8"/>
<text x="354.5" y="529.8" font-size="6.0" text-anchor="middle" font-weight="normal" fill="#303030" stroke="#303030" stroke-width="0.1" >0.23</text>
<line x1="381.3" y1="518.3" x2="381.3" y2="520.9" stroke="#222" stroke-width="0.8"/>
<text x="381.3" y="529.8" font-size="6.0" text-anchor="middle" font-weight="normal" fill="#303030" stroke="#303030" stroke-width="0.1" >0.24</text>
<line x1="408.1" y1="518.3" x2="408.1" y2="520.9" stroke="#222" stroke-width="0.8"/>
<text x="408.1" y="529.8" font-size="6.0" text-anchor="middle" font-weight="normal" fill="#303030" stroke="#303030" stroke-width="0.1" >0.25</text>
<line x1="434.8" y1="518.3" x2="434.8" y2="520.9" stroke="#222" stroke-width="0.8"/>
<text x="434.8" y="529.8" font-size="6.0" text-anchor="middle" font-weight="normal" fill="#303030" stroke="#303030" stroke-width="0.1" >0.26</text>
<text transform="translate(396.7,540.6) scale(0.66,1)" font-size="7.8" text-anchor="middle" fill="#1e1e1e" stroke="#1e1e1e" stroke-width="0.34">GeneRatio</text>
<text x="452.3" y="386.2" font-size="6.0" text-anchor="start" font-weight="normal" fill="#222" stroke="#222" stroke-width="0.1" >Count</text>
<circle cx="457.5" cy="393.8" r="3.35" fill="#111"/>
<text x="466.2" y="395.85" font-size="6.0" text-anchor="start" font-weight="normal" fill="#2a2a2a" stroke="#2a2a2a" stroke-width="0.1" >60</text>
<circle cx="457.5" cy="406.0" r="4.1" fill="#111"/>
<text x="466.2" y="408.05" font-size="6.0" text-anchor="start" font-weight="normal" fill="#2a2a2a" stroke="#2a2a2a" stroke-width="0.1" >70</text>
<circle cx="457.5" cy="418.4" r="4.6" fill="#111"/>
<text x="466.2" y="420.45" font-size="6.0" text-anchor="start" font-weight="normal" fill="#2a2a2a" stroke="#2a2a2a" stroke-width="0.1" >80</text>
<circle cx="457.5" cy="430.6" r="5.1" fill="#111"/>
<text x="466.2" y="432.65000000000003" font-size="6.0" text-anchor="start" font-weight="normal" fill="#2a2a2a" stroke="#2a2a2a" stroke-width="0.1" >90</text>
<circle cx="457.5" cy="443.0" r="5.5" fill="#111"/>
<text x="466.2" y="445.05" font-size="6.0" text-anchor="start" font-weight="normal" fill="#2a2a2a" stroke="#2a2a2a" stroke-width="0.1" >100</text>
<text x="452.3" y="456.4" font-size="6.0" text-anchor="start" font-weight="normal" fill="#222" stroke="#222" stroke-width="0.1" >p.adjust</text>
<defs><linearGradient id="gF" x1="0" y1="0" x2="0" y2="1"><stop offset="0" stop-color="#ef8c8f"/><stop offset="1" stop-color="#e00a12"/></linearGradient></defs>
<rect x="452.3" y="460.5" width="10.8" height="54.5" fill="url(#gF)"/>
<line x1="452.3" y1="465.8" x2="454.5" y2="465.8" stroke="#fff" stroke-width="0.5"/>
<line x1="460.9" y1="465.8" x2="463.1" y2="465.8" stroke="#fff" stroke-width="0.5"/>
<text x="466.2" y="467.85" font-size="6.0" text-anchor="start" font-weight="normal" fill="#2a2a2a" stroke="#2a2a2a" stroke-width="0.1" >6e−04</text>
<line x1="452.3" y1="476.5" x2="454.5" y2="476.5" stroke="#fff" stroke-width="0.5"/>
<line x1="460.9" y1="476.5" x2="463.1" y2="476.5" stroke="#fff" stroke-width="0.5"/>
<text x="466.2" y="478.55" font-size="6.0" text-anchor="start" font-weight="normal" fill="#2a2a2a" stroke="#2a2a2a" stroke-width="0.1" >5e−04</text>
<line x1="452.3" y1="487.2" x2="454.5" y2="487.2" stroke="#fff" stroke-width="0.5"/>
<line x1="460.9" y1="487.2" x2="463.1" y2="487.2" stroke="#fff" stroke-width="0.5"/>
<text x="466.2" y="489.25" font-size="6.0" text-anchor="start" font-weight="normal" fill="#2a2a2a" stroke="#2a2a2a" stroke-width="0.1" >4e−04</text>
<line x1="452.3" y1="497.6" x2="454.5" y2="497.6" stroke="#fff" stroke-width="0.5"/>
<line x1="460.9" y1="497.6" x2="463.1" y2="497.6" stroke="#fff" stroke-width="0.5"/>
<text x="466.2" y="499.65000000000003" font-size="6.0" text-anchor="start" font-weight="normal" fill="#2a2a2a" stroke="#2a2a2a" stroke-width="0.1" >3e−04</text>
<line x1="452.3" y1="508" x2="454.5" y2="508" stroke="#fff" stroke-width="0.5"/>
<line x1="460.9" y1="508" x2="463.1" y2="508" stroke="#fff" stroke-width="0.5"/>
<text x="466.2" y="510.05" font-size="6.0" text-anchor="start" font-weight="normal" fill="#2a2a2a" stroke="#2a2a2a" stroke-width="0.1" >2e−04</text>
<text x="54.5" y="570.3" font-size="8.05" text-anchor="start" font-weight="normal" fill="#222" stroke="#222" stroke-width="0.1" >Outgoing CD14+ monocytes signaling</text>
<rect x="42.9" y="575.75" width="162.5" height="38.200000000000045" fill="#f3f8f1"/>
<rect x="45.20" y="577.3" width="22.81" height="17.50" fill="#1da336"/>
<rect x="45.20" y="594.6" width="22.81" height="18.20" fill="#7cbd6f"/>
<rect x="67.76" y="577.3" width="22.81" height="17.50" fill="#dcdedc"/>
<rect x="67.76" y="594.6" width="22.81" height="18.20" fill="#e9e5e5"/>
<rect x="90.32" y="577.3" width="22.81" height="17.50" fill="#1da336"/>
<rect x="90.32" y="594.6" width="22.81" height="18.20" fill="#8bc47d"/>
<rect x="112.88" y="577.3" width="22.81" height="17.50" fill="#dcdedb"/>
<rect x="112.88" y="594.6" width="22.81" height="18.20" fill="#e9e6e6"/>
<rect x="135.44" y="577.3" width="22.81" height="17.50" fill="#d6ddd3"/>
<rect x="135.44" y="594.6" width="22.81" height="18.20" fill="#d7dfd4"/>
<rect x="158.00" y="577.3" width="22.81" height="17.50" fill="#a8d49f"/>
<rect x="158.00" y="594.6" width="22.81" height="18.20" fill="#aad5a1"/>
<rect x="180.56" y="577.3" width="22.56" height="17.50" fill="#b8dab0"/>
<rect x="180.56" y="594.6" width="22.56" height="18.20" fill="#b8dab0"/>
<rect x="42.9" y="575.75" width="162.5" height="38.200000000000045" fill="none" stroke="#161616" stroke-width="1.25"/>
<line x1="40.3" y1="586.05" x2="42.4" y2="586.05" stroke="#222" stroke-width="0.8"/>
<text x="36.8" y="588.1999999999999" font-size="6.0" text-anchor="end" font-weight="normal" fill="#222" stroke="#222" stroke-width="0.1" >TET2</text>
<line x1="40.3" y1="603.8" x2="42.4" y2="603.8" stroke="#222" stroke-width="0.8"/>
<text x="36.8" y="605.9499999999999" font-size="6.0" text-anchor="end" font-weight="normal" fill="#222" stroke="#222" stroke-width="0.1" >Control</text>
<line x1="56.480000000000004" y1="614.45" x2="56.480000000000004" y2="616.5500000000001" stroke="#222" stroke-width="0.8"/>
<text transform="translate(59.38,622.95) rotate(-45)" font-size="6.0" text-anchor="end" fill="#222" stroke="#222" stroke-width="0.1">*GALECTIN</text>
<line x1="79.03999999999999" y1="614.45" x2="79.03999999999999" y2="616.5500000000001" stroke="#222" stroke-width="0.8"/>
<text transform="translate(81.94,622.95) rotate(-45)" font-size="6.0" text-anchor="end" fill="#222" stroke="#222" stroke-width="0.1">*IL1</text>
<line x1="101.6" y1="614.45" x2="101.6" y2="616.5500000000001" stroke="#222" stroke-width="0.8"/>
<text transform="translate(104.50,622.95) rotate(-45)" font-size="6.0" text-anchor="end" fill="#222" stroke="#222" stroke-width="0.1">*MIF</text>
<line x1="124.16" y1="614.45" x2="124.16" y2="616.5500000000001" stroke="#222" stroke-width="0.8"/>
<text transform="translate(127.06,622.95) rotate(-45)" font-size="6.0" text-anchor="end" fill="#222" stroke="#222" stroke-width="0.1">*SELPLG</text>
<line x1="146.72" y1="614.45" x2="146.72" y2="616.5500000000001" stroke="#222" stroke-width="0.8"/>
<text transform="translate(149.62,622.95) rotate(-45)" font-size="6.0" text-anchor="end" fill="#222" stroke="#222" stroke-width="0.1">IL6</text>
<line x1="169.28" y1="614.45" x2="169.28" y2="616.5500000000001" stroke="#222" stroke-width="0.8"/>
<text transform="translate(172.18,622.95) rotate(-45)" font-size="6.0" text-anchor="end" fill="#222" stroke="#222" stroke-width="0.1">ITGB2</text>
<line x1="191.83999999999997" y1="614.45" x2="191.83999999999997" y2="616.5500000000001" stroke="#222" stroke-width="0.8"/>
<text transform="translate(194.74,622.95) rotate(-45)" font-size="6.0" text-anchor="end" fill="#222" stroke="#222" stroke-width="0.1">PECAM1</text>
<defs><linearGradient id="gG" x1="0" y1="0" x2="0" y2="1"><stop offset="0" stop-color="#1da336"/><stop offset="1" stop-color="#e9e6e6"/></linearGradient></defs>
<rect x="217.3" y="568.6" width="12.2" height="59.0" fill="url(#gG)"/>
<text x="232.9" y="570.2" font-size="6.0" text-anchor="start" font-weight="normal" fill="#222" stroke="#222" stroke-width="0.1" >High</text>
<text x="233.1" y="628.3" font-size="6.0" text-anchor="start" font-weight="normal" fill="#222" stroke="#222" stroke-width="0.1" >Low</text>
<text x="308.7" y="570.3" font-size="8.05" text-anchor="start" font-weight="normal" fill="#222" stroke="#222" stroke-width="0.1" >Outgoing CD14+ monocytes signaling</text>
<rect x="296.7" y="575.75" width="162.3" height="38.200000000000045" fill="#fdf3f1"/>
<rect x="298.80" y="577.3" width="22.96" height="17.50" fill="#e8311f"/>
<rect x="298.80" y="594.6" width="22.96" height="18.20" fill="#f08878"/>
<rect x="321.51" y="577.3" width="22.96" height="17.50" fill="#f9d3cc"/>
<rect x="321.51" y="594.6" width="22.96" height="18.20" fill="#ece6e6"/>
<rect x="344.22" y="577.3" width="22.96" height="17.50" fill="#f2a79b"/>
<rect x="344.22" y="594.6" width="22.96" height="18.20" fill="#f3aea3"/>
<rect x="366.93" y="577.3" width="22.96" height="17.50" fill="#f7d0ca"/>
<rect x="366.93" y="594.6" width="22.96" height="18.20" fill="#f6cbc4"/>
<rect x="389.64" y="577.3" width="22.96" height="17.50" fill="#e0100f"/>
<rect x="389.64" y="594.6" width="22.96" height="18.20" fill="#ee8a7c"/>
<rect x="412.35" y="577.3" width="22.96" height="17.50" fill="#f5c5be"/>
<rect x="412.35" y="594.6" width="22.96" height="18.20" fill="#f6ccc5"/>
<rect x="435.06" y="577.3" width="22.71" height="17.50" fill="#f6cbc5"/>
<rect x="435.06" y="594.6" width="22.71" height="18.20" fill="#ebe6e6"/>
<rect x="296.7" y="575.75" width="162.3" height="38.200000000000045" fill="none" stroke="#161616" stroke-width="1.25"/>
<line x1="294.09999999999997" y1="586.05" x2="296.2" y2="586.05" stroke="#222" stroke-width="0.8"/>
<text x="290.59999999999997" y="588.1999999999999" font-size="6.0" text-anchor="end" font-weight="normal" fill="#222" stroke="#222" stroke-width="0.1" >DNMT3A</text>
<line x1="294.09999999999997" y1="603.8" x2="296.2" y2="603.8" stroke="#222" stroke-width="0.8"/>
<text x="290.59999999999997" y="605.9499999999999" font-size="6.0" text-anchor="end" font-weight="normal" fill="#222" stroke="#222" stroke-width="0.1" >Control</text>
<line x1="310.15500000000003" y1="614.45" x2="310.15500000000003" y2="616.5500000000001" stroke="#222" stroke-width="0.8"/>
<text transform="translate(313.06,622.95) rotate(-45)" font-size="6.0" text-anchor="end" fill="#222" stroke="#222" stroke-width="0.1">*GALECTIN</text>
<line x1="332.865" y1="614.45" x2="332.865" y2="616.5500000000001" stroke="#222" stroke-width="0.8"/>
<text transform="translate(335.76,622.95) rotate(-45)" font-size="6.0" text-anchor="end" fill="#222" stroke="#222" stroke-width="0.1">*IL1</text>
<line x1="355.57500000000005" y1="614.45" x2="355.57500000000005" y2="616.5500000000001" stroke="#222" stroke-width="0.8"/>
<text transform="translate(358.48,622.95) rotate(-45)" font-size="6.0" text-anchor="end" fill="#222" stroke="#222" stroke-width="0.1">*ITGB2</text>
<line x1="378.285" y1="614.45" x2="378.285" y2="616.5500000000001" stroke="#222" stroke-width="0.8"/>
<text transform="translate(381.19,622.95) rotate(-45)" font-size="6.0" text-anchor="end" fill="#222" stroke="#222" stroke-width="0.1">IL6</text>
<line x1="400.995" y1="614.45" x2="400.995" y2="616.5500000000001" stroke="#222" stroke-width="0.8"/>
<text transform="translate(403.89,622.95) rotate(-45)" font-size="6.0" text-anchor="end" fill="#222" stroke="#222" stroke-width="0.1">MIF</text>
<line x1="423.70500000000004" y1="614.45" x2="423.70500000000004" y2="616.5500000000001" stroke="#222" stroke-width="0.8"/>
<text transform="translate(426.61,622.95) rotate(-45)" font-size="6.0" text-anchor="end" fill="#222" stroke="#222" stroke-width="0.1">PECAM1</text>
<line x1="446.415" y1="614.45" x2="446.415" y2="616.5500000000001" stroke="#222" stroke-width="0.8"/>
<text transform="translate(449.31,622.95) rotate(-45)" font-size="6.0" text-anchor="end" fill="#222" stroke="#222" stroke-width="0.1">SELPLG</text>
<defs><linearGradient id="gH" x1="0" y1="0" x2="0" y2="1"><stop offset="0" stop-color="#e0100f"/><stop offset="1" stop-color="#f5e4e2"/></linearGradient></defs>
<rect x="472.3" y="568.3" width="10.8" height="55.40000000000009" fill="url(#gH)"/>
<text x="486.5" y="569.9" font-size="6.0" text-anchor="start" font-weight="normal" fill="#222" stroke="#222" stroke-width="0.1" >High</text>
<text x="486.70000000000005" y="628.3" font-size="6.0" text-anchor="start" font-weight="normal" fill="#222" stroke="#222" stroke-width="0.1" >Low</text>
<text x="6.6" y="14" font-size="10.2" text-anchor="start" font-weight="bold" fill="#000" stroke="#000" stroke-width="0.25" >A</text>
<text x="7" y="155.7" font-size="10.2" text-anchor="start" font-weight="bold" fill="#000" stroke="#000" stroke-width="0.25" >C</text>
<text x="7" y="376" font-size="10.2" text-anchor="start" font-weight="bold" fill="#000" stroke="#000" stroke-width="0.25" >E</text>
<text x="6.8" y="558.1" font-size="10.2" text-anchor="start" font-weight="bold" fill="#000" stroke="#000" stroke-width="0.25" >G</text>
<text x="263" y="14" font-size="10.2" text-anchor="start" font-weight="bold" fill="#000" stroke="#000" stroke-width="0.25" >B</text>
<text x="223.7" y="155.7" font-size="10.2" text-anchor="start" font-weight="bold" fill="#000" stroke="#000" stroke-width="0.25" >D</text>
<text x="260.6" y="376" font-size="10.2" text-anchor="start" font-weight="bold" fill="#000" stroke="#000" stroke-width="0.25" >F</text>
<text x="260.4" y="557.9" font-size="10.2" text-anchor="start" font-weight="bold" fill="#000" stroke="#000" stroke-width="0.25" >H</text>
<rect x="0.5" y="0.4" width="519" height="650" fill="none" stroke="#5a5a5a" stroke-width="1.05"/>
</svg>
</body></html>
